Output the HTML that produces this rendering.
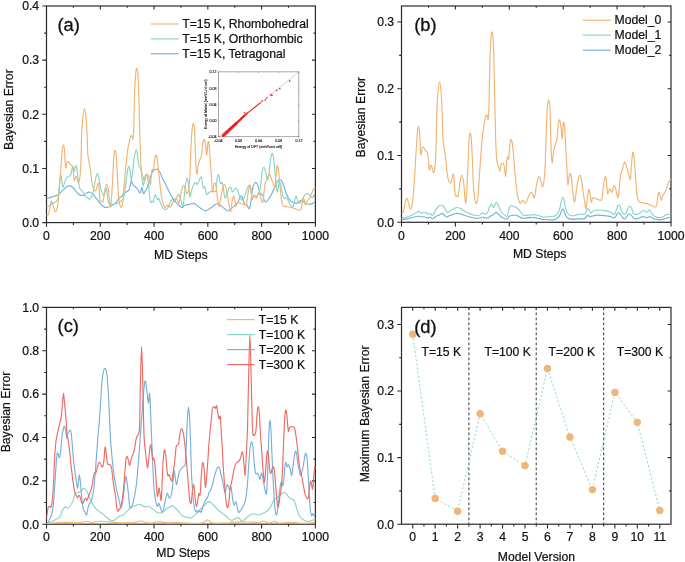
<!DOCTYPE html><html><head><meta charset="utf-8"><style>html,body{margin:0;padding:0;background:#fff}svg{display:block;will-change:transform}.t{font-family:'Liberation Sans',sans-serif;font-size:12.2px;fill:#111;stroke:#111;stroke-width:0.22px}.big{font-family:'Liberation Sans',sans-serif;font-size:18.3px;fill:#111;stroke:#111;stroke-width:0.3px}</style></head><body>
<svg width="685" height="562" viewBox="0 0 685 562">
<rect width="685" height="562" fill="#fff"/>
<clipPath id="ca"><rect x="46.5" y="6" width="268.9" height="216.6"/></clipPath>
<path d="M46.5,222.6 L46.5,226.8 M100.28,222.6 L100.28,226.8 M100.28,6 L100.28,9.4 M154.06,222.6 L154.06,226.8 M154.06,6 L154.06,9.4 M207.84,222.6 L207.84,226.8 M207.84,6 L207.84,9.4 M261.62,222.6 L261.62,226.8 M261.62,6 L261.62,9.4 M315.4,222.6 L315.4,226.8 M73.39,222.6 L73.39,224.9 M73.39,6 L73.39,7.8 M127.17,222.6 L127.17,224.9 M127.17,6 L127.17,7.8 M180.95,222.6 L180.95,224.9 M180.95,6 L180.95,7.8 M234.73,222.6 L234.73,224.9 M234.73,6 L234.73,7.8 M288.51,222.6 L288.51,224.9 M288.51,6 L288.51,7.8 M46.5,222.6 L42.3,222.6 M46.5,168.45 L42.3,168.45 M315.4,168.45 L312,168.45 M46.5,114.3 L42.3,114.3 M315.4,114.3 L312,114.3 M46.5,60.15 L42.3,60.15 M315.4,60.15 L312,60.15 M46.5,6 L42.3,6 M46.5,195.53 L44.2,195.53 M315.4,195.53 L313.6,195.53 M46.5,141.38 L44.2,141.38 M315.4,141.38 L313.6,141.38 M46.5,87.22 L44.2,87.22 M315.4,87.22 L313.6,87.22 M46.5,33.08 L44.2,33.08 M315.4,33.08 L313.6,33.08" stroke="#2a2a2a" stroke-width="1.1" fill="none"/>
<rect x="46.5" y="6" width="268.9" height="216.6" fill="none" stroke="#2a2a2a" stroke-width="1.2"/>
<text x="46.5" y="239.5" text-anchor="middle" class="t">0</text>
<text x="100.28" y="239.5" text-anchor="middle" class="t">200</text>
<text x="154.06" y="239.5" text-anchor="middle" class="t">400</text>
<text x="207.84" y="239.5" text-anchor="middle" class="t">600</text>
<text x="261.62" y="239.5" text-anchor="middle" class="t">800</text>
<text x="315.4" y="239.5" text-anchor="middle" class="t">1000</text>
<text x="39.1" y="226.9" text-anchor="end" class="t">0.0</text>
<text x="39.1" y="172.75" text-anchor="end" class="t">0.1</text>
<text x="39.1" y="118.6" text-anchor="end" class="t">0.2</text>
<text x="39.1" y="64.45" text-anchor="end" class="t">0.3</text>
<text x="39.1" y="10.3" text-anchor="end" class="t">0.4</text>
<g clip-path="url(#ca)">
<path d="M46.5,198.9 C46.9,198.75 48.02,198.33 48.9,198 C49.78,197.67 50.82,197.22 51.8,196.9 C52.78,196.58 53.82,196.4 54.8,196.1 C55.78,195.8 56.73,195.7 57.7,195.1 C58.67,194.5 59.63,193.42 60.6,192.5 C61.57,191.58 62.53,190.52 63.5,189.6 C64.47,188.68 65.43,187.62 66.4,187 C67.37,186.38 68.32,185.9 69.3,185.9 C70.28,185.9 71.32,186.27 72.3,187 C73.28,187.73 74.23,189.18 75.2,190.3 C76.17,191.42 77.13,192.85 78.1,193.7 C79.07,194.55 80.03,195.17 81,195.4 C81.97,195.63 82.93,195.53 83.9,195.1 C84.87,194.67 85.82,193.28 86.8,192.8 C87.78,192.32 88.82,192 89.8,192.2 C90.78,192.4 91.73,193.1 92.7,194 C93.67,194.9 94.63,196.38 95.6,197.6 C96.57,198.82 97.53,200.08 98.5,201.3 C99.47,202.52 100.43,203.93 101.4,204.9 C102.37,205.87 103.32,206.68 104.3,207.1 C105.28,207.52 106.32,207.52 107.3,207.4 C108.28,207.28 109.23,206.82 110.2,206.4 C111.17,205.98 112.13,205.52 113.1,204.9 C114.07,204.28 115.22,203.55 116,202.7 C116.78,201.85 117,200.77 117.8,199.8 C118.6,198.83 119.82,197.87 120.8,196.9 C121.78,195.93 122.73,194.85 123.7,194 C124.67,193.15 125.68,192.53 126.6,191.8 C127.52,191.07 128.6,190.7 129.2,189.6 C129.8,188.5 129.85,186.67 130.2,185.2 C130.55,183.73 130.93,181.03 131.3,180.8 C131.67,180.57 131.97,182.95 132.4,183.8 C132.83,184.65 133.28,185.3 133.9,185.9 C134.52,186.5 135.37,186.67 136.1,187.4 C136.83,188.13 137.58,189.4 138.3,190.3 C139.02,191.2 139.8,193.28 140.4,192.8 C141,192.32 141.4,187.25 141.9,187.4 C142.4,187.55 142.92,192.97 143.4,193.7 C143.88,194.43 144.2,192.73 144.8,191.8 C145.4,190.87 146.27,189.93 147,188.1 C147.73,186.27 148.47,183.1 149.2,180.8 C149.93,178.5 150.67,176 151.4,174.3 C152.13,172.6 152.87,171.45 153.6,170.6 C154.33,169.75 155.08,169.32 155.8,169.2 C156.52,169.08 157.18,169.3 157.9,169.9 C158.62,170.5 159.37,171.47 160.1,172.8 C160.83,174.13 161.57,176.32 162.3,177.9 C163.03,179.48 163.65,180.6 164.5,182.3 C165.35,184 166.43,186.15 167.4,188.1 C168.37,190.05 169.32,192.17 170.3,194 C171.28,195.83 172.32,197.65 173.3,199.1 C174.28,200.55 175.32,201.72 176.2,202.7 C177.08,203.68 177.93,204.38 178.6,205 C179.27,205.62 179.57,206 180.2,206.4 C180.83,206.8 181.67,207.58 182.4,207.4 C183.13,207.22 183.87,205.72 184.6,205.3 C185.33,204.88 185.95,205.08 186.8,204.9 C187.65,204.72 188.73,204.37 189.7,204.2 C190.67,204.03 191.83,204.03 192.6,203.9 C193.37,203.77 193.7,203.23 194.3,203.4 C194.9,203.57 195.4,204.28 196.2,204.9 C197,205.52 198.12,206.37 199.1,207.1 C200.08,207.83 201.12,208.7 202.1,209.3 C203.08,209.9 204.03,210.63 205,210.7 C205.97,210.77 206.93,210.18 207.9,209.7 C208.87,209.22 209.83,208.48 210.8,207.8 C211.77,207.12 212.73,206.28 213.7,205.6 C214.67,204.92 215.75,203.93 216.6,203.7 C217.45,203.47 217.93,203.75 218.8,204.2 C219.67,204.65 220.82,205.63 221.8,206.4 C222.78,207.17 223.73,208.03 224.7,208.8 C225.67,209.57 226.75,210.8 227.6,211 C228.45,211.2 228.95,210.6 229.8,210 C230.65,209.4 231.73,208.25 232.7,207.4 C233.67,206.55 234.75,205.68 235.6,204.9 C236.45,204.12 237.15,203.8 237.8,202.7 C238.45,201.6 239.02,199.4 239.5,198.3 C239.98,197.2 240.25,196.33 240.7,196.1 C241.15,195.87 241.72,195.92 242.2,196.9 C242.68,197.88 243.08,200.72 243.6,202 C244.12,203.28 244.75,204.1 245.3,204.6 C245.85,205.1 246.38,204.45 246.9,205 C247.42,205.55 247.97,207.3 248.4,207.9 C248.83,208.5 249.13,209.22 249.5,208.6 C249.87,207.98 250.25,206.38 250.6,204.2 C250.95,202.02 251.23,198.17 251.6,195.5 C251.97,192.83 252.37,190.15 252.8,188.2 C253.23,186.25 253.72,184.78 254.2,183.8 C254.68,182.82 255.22,182.3 255.7,182.3 C256.18,182.3 256.62,182.82 257.1,183.8 C257.58,184.78 258.15,186.73 258.6,188.2 C259.05,189.67 259.43,191.52 259.8,192.6 C260.17,193.68 260.47,194.47 260.8,194.7 C261.13,194.93 261.43,193.87 261.8,194 C262.17,194.13 262.62,194.52 263,195.5 C263.38,196.48 263.67,198.82 264.1,199.9 C264.53,200.98 265.05,201.88 265.6,202 C266.15,202.12 266.75,201.32 267.4,200.6 C268.05,199.88 268.78,198.8 269.5,197.7 C270.22,196.6 270.97,195.47 271.7,194 C272.43,192.53 273.17,190.6 273.9,188.9 C274.63,187.2 275.37,185.18 276.1,183.8 C276.83,182.42 277.62,181.28 278.3,180.6 C278.98,179.92 279.58,179.53 280.2,179.7 C280.82,179.87 281.42,180.55 282,181.6 C282.58,182.65 283.1,184.3 283.7,186 C284.3,187.7 284.92,189.98 285.6,191.8 C286.28,193.62 287.07,195.52 287.8,196.9 C288.53,198.28 289.27,199.25 290,200.1 C290.73,200.95 291.47,201.5 292.2,202 C292.93,202.5 293.67,202.92 294.4,203.1 C295.13,203.28 295.88,203.2 296.6,203.1 C297.32,203 298.03,202.92 298.7,202.5 C299.37,202.08 300.03,200.92 300.6,200.6 C301.17,200.28 301.55,200.37 302.1,200.6 C302.65,200.83 303.25,201.52 303.9,202 C304.55,202.48 305.28,203.13 306,203.5 C306.72,203.87 307.47,204.08 308.2,204.2 C308.93,204.32 309.67,204.32 310.4,204.2 C311.13,204.08 311.87,203.98 312.6,203.5 C313.33,203.02 314.27,201.78 314.8,201.3 C315.33,200.82 315.63,200.72 315.8,200.6" fill="none" stroke="#78B0D9" stroke-width="1.15" stroke-linejoin="round" stroke-linecap="round"/>
<path d="M46.5,207.1 C46.9,206.98 48.25,206.88 48.9,206.4 C49.55,205.92 49.97,205.05 50.4,204.2 C50.83,203.35 51.13,201.43 51.5,201.3 C51.87,201.17 52.18,203.17 52.6,203.4 C53.02,203.63 53.4,203.05 54,202.7 C54.6,202.35 55.53,202.03 56.2,201.3 C56.87,200.57 57.52,200.5 58,198.3 C58.48,196.1 58.78,191.25 59.1,188.1 C59.42,184.95 59.65,181.53 59.9,179.4 C60.15,177.27 60.33,175.55 60.6,175.3 C60.87,175.05 61.22,176.25 61.5,177.9 C61.78,179.55 62.02,183.62 62.3,185.2 C62.58,186.78 62.88,187.63 63.2,187.4 C63.52,187.17 63.78,185.13 64.2,183.8 C64.62,182.47 65.22,180.5 65.7,179.4 C66.18,178.3 66.62,177.68 67.1,177.2 C67.58,176.72 68.1,176.75 68.6,176.5 C69.1,176.25 69.68,176.2 70.1,175.7 C70.52,175.2 70.78,174.58 71.1,173.5 C71.42,172.42 71.73,170.4 72,169.2 C72.27,168 72.42,166.3 72.7,166.3 C72.98,166.3 73.42,168.35 73.7,169.2 C73.98,170.05 74.15,171.77 74.4,171.4 C74.65,171.03 74.95,167.98 75.2,167 C75.45,166.02 75.62,165.13 75.9,165.5 C76.18,165.87 76.58,167.37 76.9,169.2 C77.22,171.03 77.48,174.07 77.8,176.5 C78.12,178.93 78.43,181.73 78.8,183.8 C79.17,185.87 79.58,187.82 80,188.9 C80.42,189.98 80.88,189.95 81.3,190.3 C81.72,190.65 82.12,190.52 82.5,191 C82.88,191.48 83.25,192.52 83.6,193.2 C83.95,193.88 84.18,194.53 84.6,195.1 C85.02,195.67 85.6,196.18 86.1,196.6 C86.6,197.02 87.12,197.18 87.6,197.6 C88.08,198.02 88.52,198.98 89,199.1 C89.48,199.22 90.02,198.8 90.5,198.3 C90.98,197.8 91.42,197.32 91.9,196.1 C92.38,194.88 92.9,193.3 93.4,191 C93.9,188.7 94.42,184.85 94.9,182.3 C95.38,179.75 95.87,177.12 96.3,175.7 C96.73,174.28 97.13,173.8 97.5,173.8 C97.87,173.8 98.18,174.53 98.5,175.7 C98.82,176.87 99.1,178.97 99.4,180.8 C99.7,182.63 99.97,185 100.3,186.7 C100.63,188.4 101.02,189.92 101.4,191 C101.78,192.08 102.23,192.47 102.6,193.2 C102.97,193.93 103.27,195.27 103.6,195.4 C103.93,195.53 104.28,194.85 104.6,194 C104.92,193.15 105.23,191.28 105.5,190.3 C105.77,189.32 105.95,188.1 106.2,188.1 C106.45,188.1 106.75,188.6 107,190.3 C107.25,192 107.42,196.12 107.7,198.3 C107.98,200.48 108.28,202.3 108.7,203.4 C109.12,204.5 109.72,204.6 110.2,204.9 C110.68,205.2 111.12,205.32 111.6,205.2 C112.08,205.08 112.55,204.37 113.1,204.2 C113.65,204.03 114.12,204.4 114.9,204.2 C115.68,204 116.82,203.48 117.8,203 C118.78,202.52 119.82,202.2 120.8,201.3 C121.78,200.4 122.98,199.55 123.7,197.6 C124.42,195.65 124.62,192.88 125.1,189.6 C125.58,186.32 126.15,181.3 126.6,177.9 C127.05,174.5 127.43,171.13 127.8,169.2 C128.17,167.27 128.47,166.3 128.8,166.3 C129.13,166.3 129.48,167.5 129.8,169.2 C130.12,170.9 130.43,174.8 130.7,176.5 C130.97,178.2 131.12,179.9 131.4,179.4 C131.68,178.9 132.03,176.42 132.4,173.5 C132.77,170.58 133.17,165.17 133.6,161.9 C134.03,158.63 134.58,155.85 135,153.9 C135.42,151.95 135.75,150.57 136.1,150.2 C136.45,149.83 136.78,150.23 137.1,151.7 C137.42,153.17 137.68,156.57 138,159 C138.32,161.43 138.67,164.85 139,166.3 C139.33,167.75 139.68,167.22 140,167.7 C140.32,168.18 140.58,167.73 140.9,169.2 C141.22,170.67 141.57,173.83 141.9,176.5 C142.23,179.17 142.58,183.98 142.9,185.2 C143.22,186.42 143.48,185.13 143.8,183.8 C144.12,182.47 144.47,178.72 144.8,177.2 C145.13,175.68 145.43,175.07 145.8,174.7 C146.17,174.33 146.6,173.73 147,175 C147.4,176.27 147.83,179.38 148.2,182.3 C148.57,185.22 148.87,189.58 149.2,192.5 C149.53,195.42 149.88,198.1 150.2,199.8 C150.52,201.5 150.78,202.45 151.1,202.7 C151.42,202.95 151.77,201.42 152.1,201.3 C152.43,201.18 152.73,202.73 153.1,202 C153.47,201.27 153.9,198.12 154.3,196.9 C154.7,195.68 155.13,194.58 155.5,194.7 C155.87,194.82 156.17,196.75 156.5,197.6 C156.83,198.45 157.13,199.68 157.5,199.8 C157.87,199.92 158.32,198.05 158.7,198.3 C159.08,198.55 159.37,200.2 159.8,201.3 C160.23,202.4 160.77,203.82 161.3,204.9 C161.83,205.98 162.42,207.07 163,207.8 C163.58,208.53 164.18,209.05 164.8,209.3 C165.42,209.55 166.15,209.67 166.7,209.3 C167.25,208.93 167.62,207.95 168.1,207.1 C168.58,206.25 169.1,205.3 169.6,204.2 C170.1,203.1 170.62,201.23 171.1,200.5 C171.58,199.77 172.02,199.55 172.5,199.8 C172.98,200.05 173.52,201.88 174,202 C174.48,202.12 174.92,201.35 175.4,200.5 C175.88,199.65 176.43,197.9 176.9,196.9 C177.37,195.9 177.78,194.73 178.2,194.5 C178.62,194.27 179,194.67 179.4,195.5 C179.8,196.33 180.23,198.17 180.6,199.5 C180.97,200.83 181.3,202.35 181.6,203.5 C181.9,204.65 182.08,206.28 182.4,206.4 C182.72,206.52 183.13,206.52 183.5,204.2 C183.87,201.88 184.25,195.9 184.6,192.5 C184.95,189.1 185.23,186.12 185.6,183.8 C185.97,181.48 186.42,179.22 186.8,178.6 C187.18,177.98 187.55,178.52 187.9,180.1 C188.25,181.68 188.55,185.3 188.9,188.1 C189.25,190.9 189.63,196.17 190,196.9 C190.37,197.63 190.72,193.97 191.1,192.5 C191.48,191.03 191.85,189.43 192.3,188.1 C192.75,186.77 193.32,185.47 193.8,184.5 C194.28,183.53 194.8,182.55 195.2,182.3 C195.6,182.05 195.85,182.63 196.2,183 C196.55,183.37 196.93,184.62 197.3,184.5 C197.67,184.38 198.02,183.15 198.4,182.3 C198.78,181.45 199.23,180.25 199.6,179.4 C199.97,178.55 200.27,177.45 200.6,177.2 C200.93,176.95 201.28,176.8 201.6,177.9 C201.92,179 202.18,182.1 202.5,183.8 C202.82,185.5 203.17,187.62 203.5,188.1 C203.83,188.58 204.13,186.33 204.5,186.7 C204.87,187.07 205.3,188.97 205.7,190.3 C206.1,191.63 206.47,194.22 206.9,194.7 C207.33,195.18 207.77,193.68 208.3,193.2 C208.83,192.72 209.43,192.12 210.1,191.8 C210.77,191.48 211.57,191.38 212.3,191.3 C213.03,191.22 213.85,191.47 214.5,191.3 C215.15,191.13 215.77,192.42 216.2,190.3 C216.63,188.18 216.78,181.2 217.1,178.6 C217.42,176 217.77,175.05 218.1,174.7 C218.43,174.35 218.78,175.23 219.1,176.5 C219.42,177.77 219.68,181.08 220,182.3 C220.32,183.52 220.67,183.8 221,183.8 C221.33,183.8 221.63,181.82 222,182.3 C222.37,182.78 222.8,184.4 223.2,186.7 C223.6,189 224.03,194.28 224.4,196.1 C224.77,197.92 225.07,197.72 225.4,197.6 C225.73,197.48 226.03,196.25 226.4,195.4 C226.77,194.55 227.17,193.72 227.6,192.5 C228.03,191.28 228.57,189.07 229,188.1 C229.43,187.13 229.83,186.7 230.2,186.7 C230.57,186.7 230.87,187.25 231.2,188.1 C231.53,188.95 231.83,191.32 232.2,191.8 C232.57,192.28 233,191.48 233.4,191 C233.8,190.52 234.17,189.38 234.6,188.9 C235.03,188.42 235.52,187.87 236,188.1 C236.48,188.33 237,189.2 237.5,190.3 C238,191.4 238.52,193.37 239,194.7 C239.48,196.03 239.92,197.45 240.4,198.3 C240.88,199.15 241.42,199.67 241.9,199.8 C242.38,199.93 242.77,199.9 243.3,199.1 C243.83,198.3 244.5,196.58 245.1,195 C245.7,193.42 246.35,191.1 246.9,189.6 C247.45,188.1 247.92,186.72 248.4,186 C248.88,185.28 249.37,184.7 249.8,185.3 C250.23,185.9 250.63,187.42 251,189.6 C251.37,191.78 251.65,197.18 252,198.4 C252.35,199.62 252.73,197.38 253.1,196.9 C253.47,196.42 253.77,195.62 254.2,195.5 C254.63,195.38 255.22,196.2 255.7,196.2 C256.18,196.2 256.62,195.98 257.1,195.5 C257.58,195.02 258.1,194.4 258.6,193.3 C259.1,192.2 259.67,190.97 260.1,188.9 C260.53,186.83 260.85,183.82 261.2,180.9 C261.55,177.98 261.85,173.6 262.2,171.4 C262.55,169.2 262.93,168.32 263.3,167.7 C263.67,167.08 264.02,167.08 264.4,167.7 C264.78,168.32 265.23,169.82 265.6,171.4 C265.97,172.98 266.27,175.87 266.6,177.2 C266.93,178.53 267.28,179.27 267.6,179.4 C267.92,179.53 268.18,179.7 268.5,178 C268.82,176.3 269.15,172.37 269.5,169.2 C269.85,166.03 270.23,161.55 270.6,159 C270.97,156.45 271.32,154.63 271.7,153.9 C272.08,153.17 272.53,153.38 272.9,154.6 C273.27,155.82 273.57,158.28 273.9,161.2 C274.23,164.12 274.53,168.33 274.9,172.1 C275.27,175.87 275.7,180.52 276.1,183.8 C276.5,187.08 276.93,191.07 277.3,191.8 C277.67,192.53 278.02,189.78 278.3,188.2 C278.58,186.62 278.68,183.03 279,182.3 C279.32,181.57 279.75,182.58 280.2,183.8 C280.65,185.02 281.22,187.53 281.7,189.6 C282.18,191.67 282.62,194.73 283.1,196.2 C283.58,197.67 284.12,198.15 284.6,198.4 C285.08,198.65 285.52,197.58 286,197.7 C286.48,197.82 286.95,198.25 287.5,199.1 C288.05,199.95 288.72,201.7 289.3,202.8 C289.88,203.9 290.4,205.1 291,205.7 C291.6,206.3 292.33,207.13 292.9,206.4 C293.47,205.67 293.92,203 294.4,201.3 C294.88,199.6 295.32,196.57 295.8,196.2 C296.28,195.83 296.82,198 297.3,199.1 C297.78,200.2 298.22,202.18 298.7,202.8 C299.18,203.42 299.7,203.17 300.2,202.8 C300.7,202.43 301.22,201.45 301.7,200.6 C302.18,199.75 302.5,198.68 303.1,197.7 C303.7,196.72 304.57,195.43 305.3,194.7 C306.03,193.97 306.88,193.3 307.5,193.3 C308.12,193.3 308.52,194.22 309,194.7 C309.48,195.18 309.92,195.7 310.4,196.2 C310.88,196.7 311.42,197.58 311.9,197.7 C312.38,197.82 312.7,197.27 313.3,196.9 C313.9,196.53 315.13,195.73 315.5,195.5" fill="none" stroke="#88D5C6" stroke-width="1.15" stroke-linejoin="round" stroke-linecap="round"/>
<path d="M46.1,215.3 C46.47,215.15 47.55,216.06 48.3,214.41 C49.04,212.76 49.96,207.27 50.59,205.4 C51.22,203.54 51.54,202.77 52.09,203.21 C52.64,203.66 53.37,206.66 53.88,208.08 C54.4,209.5 54.63,211.73 55.18,211.73 C55.73,211.73 56.58,210.78 57.18,208.08 C57.77,205.38 58.21,201.51 58.77,195.51 C59.34,189.51 59.99,179.58 60.57,172.07 C61.15,164.55 61.8,154.97 62.26,150.41 C62.73,145.85 62.98,144.73 63.36,144.73 C63.74,144.73 64.18,146.61 64.56,150.41 C64.94,154.21 65.22,165.56 65.66,167.52 C66.09,169.48 66.61,163.06 67.15,162.17 C67.7,161.28 68.38,161.73 68.95,162.17 C69.52,162.62 70.03,164.25 70.55,164.85 C71.06,165.44 71.58,164.54 72.04,165.74 C72.51,166.94 72.97,169.66 73.34,172.07 C73.71,174.47 73.86,179.42 74.24,180.18 C74.62,180.94 75.22,177.06 75.63,176.61 C76.05,176.16 76.3,176.61 76.73,177.5 C77.16,178.39 77.75,181.67 78.23,181.96 C78.71,182.26 79.18,182.44 79.63,179.29 C80.08,176.14 80.59,170.35 80.92,163.06 C81.26,155.78 81.32,142.85 81.62,135.57 C81.92,128.28 82.24,123.85 82.72,119.34 C83.2,114.84 83.93,108.56 84.52,108.56 C85.1,108.56 85.78,114.84 86.21,119.34 C86.64,123.85 86.84,129.78 87.11,135.57 C87.38,141.35 87.51,149.77 87.81,154.06 C88.11,158.35 88.46,158.58 88.91,161.28 C89.35,163.98 89.99,166.69 90.5,170.28 C91.02,173.88 91.45,179.71 92,182.85 C92.55,186 93.13,187.91 93.79,189.18 C94.46,190.45 95.32,191.39 95.99,190.48 C96.65,189.57 97.3,184.56 97.79,183.75 C98.27,182.94 98.52,182.91 98.88,185.61 C99.25,188.32 99.53,197.41 99.98,199.97 C100.43,202.52 101.06,200.73 101.58,200.94 C102.09,201.16 102.52,203.08 103.07,201.27 C103.62,199.46 104.27,192.9 104.87,190.07 C105.47,187.25 106.07,184.31 106.67,184.31 C107.26,184.31 107.95,187.01 108.46,190.07 C108.98,193.14 109.34,200.17 109.76,202.73 C110.17,205.28 110.49,209.01 110.96,205.4 C111.42,201.79 112.07,189.33 112.55,181.07 C113.03,172.81 113.45,160.95 113.85,155.84 C114.25,150.73 114.58,150.71 114.95,150.41 C115.31,150.11 115.68,150.75 116.04,154.06 C116.41,157.37 116.78,163.98 117.14,170.28 C117.51,176.58 117.79,186.15 118.24,191.86 C118.69,197.56 119.3,201.96 119.84,204.51 C120.37,207.07 120.95,207.49 121.43,207.19 C121.92,206.89 122.26,206.47 122.73,202.73 C123.2,198.98 123.71,190.74 124.23,184.72 C124.74,178.7 125.26,172.35 125.82,166.63 C126.39,160.91 127.02,154.65 127.62,150.41 C128.22,146.17 128.87,143.6 129.41,141.16 C129.96,138.73 130.48,136.63 130.91,135.81 C131.34,134.99 131.64,135.72 132.01,136.22 C132.38,136.72 132.81,140.42 133.11,138.81 C133.41,137.2 133.54,134.62 133.81,126.56 C134.07,118.51 134.34,99.78 134.7,90.47 C135.07,81.15 135.63,74.31 136,70.68 C136.37,67.04 136.6,68.35 136.9,68.65 C137.2,68.95 137.5,68.82 137.8,72.46 C138.1,76.1 138.39,81.45 138.69,90.47 C138.99,99.48 139.29,115.67 139.59,126.56 C139.89,137.46 140.16,148.26 140.49,155.84 C140.82,163.43 141.16,168.61 141.59,172.07 C142.02,175.53 142.57,175.11 143.08,176.61 C143.6,178.11 144.2,181.23 144.68,181.07 C145.16,180.91 145.5,176.74 145.98,175.64 C146.46,174.53 147.06,174.11 147.57,174.42 C148.09,174.73 148.59,175.73 149.07,177.5 C149.55,179.27 150.05,185.95 150.47,185.04 C150.88,184.14 151.23,174.68 151.57,172.07 C151.9,169.46 152.16,169.54 152.46,169.39 C152.76,169.24 153.03,172.53 153.36,171.17 C153.69,169.82 154.09,163.89 154.46,161.28 C154.82,158.67 155.16,156.13 155.56,155.52 C155.96,154.91 156.42,155.78 156.85,157.63 C157.29,159.48 157.67,162.43 158.15,166.63 C158.63,170.84 159.22,178.04 159.75,182.85 C160.28,187.67 160.79,192.05 161.34,195.51 C161.89,198.97 162.46,201.67 163.04,203.62 C163.62,205.57 164.27,206.8 164.84,207.19 C165.4,207.58 165.92,206.36 166.43,205.97 C166.95,205.58 167.38,204.63 167.93,204.84 C168.48,205.04 169.13,207.09 169.73,207.19 C170.32,207.28 170.86,206.45 171.52,205.4 C172.19,204.36 172.98,202.15 173.72,200.94 C174.45,199.74 175.25,198.25 175.91,198.19 C176.58,198.12 177.18,199.78 177.71,200.54 C178.24,201.29 178.57,203.86 179.1,202.73 C179.64,201.59 180.33,196.28 180.9,193.72 C181.47,191.17 181.98,188.75 182.5,187.4 C183.01,186.05 183.51,185.46 183.99,185.61 C184.48,185.76 184.91,186.94 185.39,188.29 C185.87,189.64 186.37,193.43 186.89,193.72 C187.4,194.02 188,192.78 188.48,190.07 C188.97,187.37 189.38,184.11 189.78,177.5 C190.18,170.89 190.51,158.26 190.88,150.41 C191.24,142.56 191.56,134.89 191.98,130.38 C192.39,125.86 192.92,123.36 193.37,123.32 C193.82,123.28 194.39,126.51 194.67,130.13 C194.95,133.75 194.85,138.97 195.07,145.06 C195.28,151.14 195.67,161.68 195.97,166.63 C196.27,171.58 196.53,174.74 196.86,174.74 C197.2,174.74 197.51,169.03 197.96,166.63 C198.41,164.24 199.08,161.89 199.56,160.39 C200.04,158.89 200.49,158.68 200.86,157.63 C201.22,156.57 201.42,156.47 201.75,154.06 C202.09,151.65 202.44,145.61 202.85,143.19 C203.27,140.77 203.77,139.08 204.25,139.54 C204.73,140 205.31,143.38 205.74,145.95 C206.18,148.52 206.48,155.55 206.84,154.95 C207.21,154.36 207.57,144.18 207.94,142.38 C208.31,140.58 208.65,141.33 209.04,144.16 C209.42,147 209.85,154.17 210.23,159.41 C210.62,164.66 210.97,170.23 211.33,175.64 C211.7,181.04 212.06,190.05 212.43,191.86 C212.8,193.67 213.16,188.01 213.53,186.51 C213.89,185 214.23,183 214.62,182.85 C215.02,182.71 215.47,183.21 215.92,185.61 C216.37,188.02 216.8,193.85 217.32,197.29 C217.83,200.74 218.47,206 219.02,206.3 C219.56,206.59 220.08,201.78 220.61,199.08 C221.14,196.37 221.66,192.47 222.21,190.07 C222.76,187.68 223.32,185.32 223.9,184.72 C224.49,184.13 225.13,184.71 225.7,186.51 C226.27,188.3 226.75,192.51 227.3,195.51 C227.85,198.51 228.44,201.81 228.99,204.51 C229.54,207.22 230.11,212.03 230.59,211.73 C231.07,211.43 231.4,205.34 231.89,202.73 C232.37,200.12 233.03,196.68 233.48,196.08 C233.93,195.47 234.18,197.37 234.58,199.08 C234.98,200.78 235.43,205.69 235.88,206.3 C236.33,206.9 236.76,203.32 237.27,202.73 C237.79,202.13 238.39,202.58 238.97,202.73 C239.55,202.88 240.33,203.46 240.77,203.62 C241.2,203.78 240.98,203.54 241.56,203.7 C242.15,203.86 243.44,204.59 244.26,204.59 C245.07,204.59 245.79,205.81 246.45,203.7 C247.12,201.59 247.7,194.95 248.25,191.94 C248.8,188.92 249.31,186.21 249.75,185.61 C250.18,185.02 250.46,186.11 250.84,188.37 C251.23,190.63 251.66,197.66 252.04,199.16 C252.42,200.66 252.74,198.04 253.14,197.37 C253.54,196.71 254.04,195.18 254.44,195.18 C254.84,195.18 255.17,196.86 255.53,197.37 C255.9,197.89 256.27,198.71 256.63,198.27 C257,197.82 257.36,195.6 257.73,194.7 C258.09,193.79 258.44,192.83 258.83,192.83 C259.21,192.83 259.64,193.64 260.02,194.7 C260.41,195.75 260.69,197.87 261.12,199.16 C261.55,200.44 262.19,203 262.62,202.4 C263.05,201.81 263.33,198.54 263.72,195.59 C264.1,192.64 264.53,187.13 264.91,184.72 C265.3,182.31 265.64,182.04 266.01,181.15 C266.38,180.26 266.74,180.27 267.11,179.37 C267.47,178.46 267.81,176.62 268.21,175.72 C268.6,174.81 269.05,173.64 269.5,173.93 C269.95,174.23 270.45,176.3 270.9,177.5 C271.35,178.7 271.71,179.8 272.2,181.15 C272.68,182.5 273.34,184.56 273.79,185.61 C274.24,186.67 274.52,189.13 274.89,187.48 C275.26,185.83 275.62,179.25 275.99,175.72 C276.35,172.19 276.72,167.66 277.09,166.31 C277.45,164.96 277.82,165.74 278.18,167.61 C278.55,169.47 278.88,173.45 279.28,177.5 C279.68,181.56 280.13,187.72 280.58,191.94 C281.03,196.16 281.44,200.46 281.97,202.81 C282.51,205.16 282.92,205.39 283.77,206.05 C284.62,206.72 285.97,206.58 287.06,206.78 C288.16,206.99 289.24,207.04 290.36,207.27 C291.47,207.5 292.63,207.77 293.75,208.16 C294.86,208.55 295.94,209.31 297.04,209.62 C298.14,209.93 299.59,210.57 300.33,210.03 C301.08,209.49 301.15,208.04 301.53,206.38 C301.91,204.71 302.26,201.4 302.63,200.05 C302.99,198.7 303.36,197.81 303.73,198.27 C304.09,198.73 304.46,201.75 304.82,202.81 C305.19,203.86 305.52,204.9 305.92,204.59 C306.32,204.28 306.74,201.85 307.22,200.94 C307.7,200.04 308.28,199.9 308.81,199.16 C309.35,198.42 309.86,197.68 310.41,196.48 C310.96,195.28 311.53,193.24 312.11,191.94 C312.69,190.64 313.39,189.29 313.9,188.7 C314.42,188.1 314.98,188.42 315.2,188.37" fill="none" stroke="#F1B472" stroke-width="1.15" stroke-linejoin="round" stroke-linecap="round"/>
</g>
<line x1="150.7" y1="24" x2="178.7" y2="24" stroke="#F1B472" stroke-width="1.15"/>
<text x="182.3" y="28" class="t">T=15 K, Rhombohedral</text>
<line x1="150.7" y1="38.9" x2="178.7" y2="38.9" stroke="#88D5C6" stroke-width="1.15"/>
<text x="182.3" y="42.9" class="t">T=15 K, Orthorhombic</text>
<line x1="150.7" y1="53.8" x2="178.7" y2="53.8" stroke="#78B0D9" stroke-width="1.15"/>
<text x="182.3" y="57.8" class="t">T=15 K, Tetragonal</text>
<text x="57.4" y="31.1" class="big">(a)</text>
<text x="180.8" y="258.7" text-anchor="middle" class="t">MD Steps</text>
<text transform="translate(13.2,109.6) rotate(-90)" text-anchor="middle" class="t">Bayesian Error</text>
<rect x="218.4" y="71.9" width="80.5" height="64.9" fill="#fff" stroke="#555" stroke-width="0.5"/>
<line x1="218.4" y1="136.8" x2="298.9" y2="71.9" stroke="#7f7fff" stroke-width="0.4"/>
<path d="M223.2,135.6 L236,123.6" stroke="#ee2020" stroke-width="2.9" stroke-linecap="round"/>
<path d="M236,123.6 L244,116" stroke="#ee2020" stroke-width="2.3" stroke-linecap="round"/>
<path d="M244,116 L247,113.4" stroke="#ee2020" stroke-width="1.7" stroke-linecap="round"/>
<path d="M247,113.4 L260.6,102.6" stroke="#ee2020" stroke-width="1.15" stroke-linecap="round"/>
<circle cx="244.6" cy="112.8" r="0.8" fill="#f01010"/>
<circle cx="262" cy="101" r="0.8" fill="#f01010"/>
<circle cx="265.2" cy="100" r="0.8" fill="#f01010"/>
<circle cx="266.7" cy="98" r="0.8" fill="#f01010"/>
<circle cx="270.9" cy="94.9" r="0.8" fill="#f01010"/>
<circle cx="272" cy="95.4" r="0.8" fill="#f01010"/>
<circle cx="276.7" cy="90.3" r="0.8" fill="#f01010"/>
<circle cx="279.8" cy="88.8" r="0.8" fill="#f01010"/>
<circle cx="289.7" cy="81.1" r="0.8" fill="#f01010"/>
<text x="216.6" y="73.3" text-anchor="end" style="font-family:'Liberation Sans',sans-serif;font-size:3.6px;fill:#111;stroke:#111;stroke-width:0.12px">0.12</text>
<line x1="218.4" y1="72.0" x2="219.4" y2="72.0" stroke="#555" stroke-width="0.4"/>
<line x1="298.9" y1="72.0" x2="297.9" y2="72.0" stroke="#555" stroke-width="0.4"/>
<text x="216.6" y="89.5" text-anchor="end" style="font-family:'Liberation Sans',sans-serif;font-size:3.6px;fill:#111;stroke:#111;stroke-width:0.12px">0.08</text>
<line x1="218.4" y1="88.2" x2="219.4" y2="88.2" stroke="#555" stroke-width="0.4"/>
<line x1="298.9" y1="88.2" x2="297.9" y2="88.2" stroke="#555" stroke-width="0.4"/>
<text x="216.6" y="105.7" text-anchor="end" style="font-family:'Liberation Sans',sans-serif;font-size:3.6px;fill:#111;stroke:#111;stroke-width:0.12px">0.04</text>
<line x1="218.4" y1="104.4" x2="219.4" y2="104.4" stroke="#555" stroke-width="0.4"/>
<line x1="298.9" y1="104.4" x2="297.9" y2="104.4" stroke="#555" stroke-width="0.4"/>
<text x="216.6" y="121.9" text-anchor="end" style="font-family:'Liberation Sans',sans-serif;font-size:3.6px;fill:#111;stroke:#111;stroke-width:0.12px">0.00</text>
<line x1="218.4" y1="120.6" x2="219.4" y2="120.6" stroke="#555" stroke-width="0.4"/>
<line x1="298.9" y1="120.6" x2="297.9" y2="120.6" stroke="#555" stroke-width="0.4"/>
<text x="216.6" y="138.1" text-anchor="end" style="font-family:'Liberation Sans',sans-serif;font-size:3.6px;fill:#111;stroke:#111;stroke-width:0.12px">-0.04</text>
<line x1="218.4" y1="136.8" x2="219.4" y2="136.8" stroke="#555" stroke-width="0.4"/>
<line x1="298.9" y1="136.8" x2="297.9" y2="136.8" stroke="#555" stroke-width="0.4"/>
<text x="218.4" y="142.2" text-anchor="middle" style="font-family:'Liberation Sans',sans-serif;font-size:3.6px;fill:#111;stroke:#111;stroke-width:0.12px">-0.04</text>
<line x1="218.4" y1="136.8" x2="218.4" y2="135.8" stroke="#555" stroke-width="0.4"/>
<line x1="218.4" y1="71.9" x2="218.4" y2="72.9" stroke="#555" stroke-width="0.4"/>
<text x="238.5" y="142.2" text-anchor="middle" style="font-family:'Liberation Sans',sans-serif;font-size:3.6px;fill:#111;stroke:#111;stroke-width:0.12px">0.00</text>
<line x1="238.5" y1="136.8" x2="238.5" y2="135.8" stroke="#555" stroke-width="0.4"/>
<line x1="238.5" y1="71.9" x2="238.5" y2="72.9" stroke="#555" stroke-width="0.4"/>
<text x="258.6" y="142.2" text-anchor="middle" style="font-family:'Liberation Sans',sans-serif;font-size:3.6px;fill:#111;stroke:#111;stroke-width:0.12px">0.04</text>
<line x1="258.6" y1="136.8" x2="258.6" y2="135.8" stroke="#555" stroke-width="0.4"/>
<line x1="258.6" y1="71.9" x2="258.6" y2="72.9" stroke="#555" stroke-width="0.4"/>
<text x="278.8" y="142.2" text-anchor="middle" style="font-family:'Liberation Sans',sans-serif;font-size:3.6px;fill:#111;stroke:#111;stroke-width:0.12px">0.08</text>
<line x1="278.8" y1="136.8" x2="278.8" y2="135.8" stroke="#555" stroke-width="0.4"/>
<line x1="278.8" y1="71.9" x2="278.8" y2="72.9" stroke="#555" stroke-width="0.4"/>
<text x="298.9" y="142.2" text-anchor="middle" style="font-family:'Liberation Sans',sans-serif;font-size:3.6px;fill:#111;stroke:#111;stroke-width:0.12px">0.12</text>
<line x1="298.9" y1="136.8" x2="298.9" y2="135.8" stroke="#555" stroke-width="0.4"/>
<line x1="298.9" y1="71.9" x2="298.9" y2="72.9" stroke="#555" stroke-width="0.4"/>
<text x="258.6" y="148.4" text-anchor="middle" style="font-family:'Liberation Sans',sans-serif;font-size:3.6px;fill:#111;stroke:#111;stroke-width:0.12px">Energy of DFT (meV/unit cell)</text>
<text transform="translate(207.2,104.3) rotate(-90)" text-anchor="middle" style="font-family:'Liberation Sans',sans-serif;font-size:3.6px;fill:#111;stroke:#111;stroke-width:0.12px">Energy of Model (meV/unit cell)</text>
<clipPath id="cb"><rect x="401.5" y="6" width="269.5" height="216.3"/></clipPath>
<path d="M401.5,222.3 L401.5,226.5 M455.4,222.3 L455.4,226.5 M455.4,6 L455.4,9.4 M509.3,222.3 L509.3,226.5 M509.3,6 L509.3,9.4 M563.2,222.3 L563.2,226.5 M563.2,6 L563.2,9.4 M617.1,222.3 L617.1,226.5 M617.1,6 L617.1,9.4 M671,222.3 L671,226.5 M428.45,222.3 L428.45,224.6 M428.45,6 L428.45,7.8 M482.35,222.3 L482.35,224.6 M482.35,6 L482.35,7.8 M536.25,222.3 L536.25,224.6 M536.25,6 L536.25,7.8 M590.15,222.3 L590.15,224.6 M590.15,6 L590.15,7.8 M644.05,222.3 L644.05,224.6 M644.05,6 L644.05,7.8 M401.5,222.3 L397.3,222.3 M401.5,155.54 L397.3,155.54 M671,155.54 L667.6,155.54 M401.5,88.78 L397.3,88.78 M671,88.78 L667.6,88.78 M401.5,22.02 L397.3,22.02 M671,22.02 L667.6,22.02 M401.5,188.92 L399.2,188.92 M671,188.92 L669.2,188.92 M401.5,122.16 L399.2,122.16 M671,122.16 L669.2,122.16 M401.5,55.4 L399.2,55.4 M671,55.4 L669.2,55.4" stroke="#2a2a2a" stroke-width="1.1" fill="none"/>
<rect x="401.5" y="6" width="269.5" height="216.3" fill="none" stroke="#2a2a2a" stroke-width="1.2"/>
<text x="401.5" y="239.8" text-anchor="middle" class="t">0</text>
<text x="455.4" y="239.8" text-anchor="middle" class="t">200</text>
<text x="509.3" y="239.8" text-anchor="middle" class="t">400</text>
<text x="563.2" y="239.8" text-anchor="middle" class="t">600</text>
<text x="617.1" y="239.8" text-anchor="middle" class="t">800</text>
<text x="671" y="239.8" text-anchor="middle" class="t">1000</text>
<text x="394.1" y="226.6" text-anchor="end" class="t">0.0</text>
<text x="394.1" y="159.84" text-anchor="end" class="t">0.1</text>
<text x="394.1" y="93.08" text-anchor="end" class="t">0.2</text>
<text x="394.1" y="26.32" text-anchor="end" class="t">0.3</text>
<g clip-path="url(#cb)">
<path d="M401.5,219.9 C402.35,219.73 404.88,219.28 406.6,218.9 C408.32,218.52 409.95,218.03 411.8,217.6 C413.65,217.17 416.05,216.45 417.7,216.3 C419.35,216.15 420.38,216.55 421.7,216.7 C423.02,216.85 424.5,216.98 425.6,217.2 C426.7,217.42 427.53,218 428.3,218 C429.07,218 429.48,217.05 430.2,217.2 C430.92,217.35 431.62,219.05 432.6,218.9 C433.58,218.75 434.97,216.95 436.1,216.3 C437.23,215.65 438.42,215.5 439.4,215 C440.38,214.5 441.23,213.3 442,213.3 C442.77,213.3 443.23,214.38 444,215 C444.77,215.62 445.72,216.88 446.6,217 C447.48,217.12 448.08,216.18 449.3,215.7 C450.52,215.22 452.58,214.5 453.9,214.1 C455.22,213.7 456,213.3 457.2,213.3 C458.4,213.3 459.68,213.7 461.1,214.1 C462.52,214.5 464.05,215.18 465.7,215.7 C467.35,216.22 469.25,216.77 471,217.2 C472.75,217.63 474.67,218.17 476.2,218.3 C477.73,218.43 479.1,218.18 480.2,218 C481.3,217.82 481.93,217.2 482.8,217.2 C483.67,217.2 484.53,217.87 485.4,218 C486.27,218.13 487.23,218.28 488,218 C488.77,217.72 489.35,216.73 490,216.3 C490.65,215.87 491.25,215.73 491.9,215.4 C492.55,215.07 493.2,214.8 493.9,214.3 C494.6,213.8 495.43,212.5 496.1,212.4 C496.77,212.3 497.17,213.05 497.9,213.7 C498.63,214.35 499.52,215.53 500.5,216.3 C501.48,217.07 502.7,217.87 503.8,218.3 C504.9,218.73 506.12,219.3 507.1,218.9 C508.08,218.5 508.83,216.48 509.7,215.9 C510.57,215.32 511.43,215.55 512.3,215.4 C513.17,215.25 514.02,214.92 514.9,215 C515.78,215.08 516.6,215.47 517.6,215.9 C518.6,216.33 519.7,217.2 520.9,217.6 C522.1,218 523.28,218.3 524.8,218.3 C526.32,218.3 528.47,217.72 530,217.6 C531.53,217.48 532.68,217.48 534,217.6 C535.32,217.72 536.58,218.03 537.9,218.3 C539.22,218.57 540.37,218.98 541.9,219.2 C543.43,219.42 545.35,219.48 547.1,219.6 C548.85,219.72 550.87,220.02 552.4,219.9 C553.93,219.78 555.1,219.6 556.3,218.9 C557.5,218.2 558.77,216.9 559.6,215.7 C560.43,214.5 560.8,212.8 561.3,211.7 C561.8,210.6 562.12,209.15 562.6,209.1 C563.08,209.05 563.6,210.2 564.2,211.4 C564.8,212.6 565.32,215.05 566.2,216.3 C567.08,217.55 568.3,218.4 569.5,218.9 C570.7,219.4 572.32,219.3 573.4,219.3 C574.48,219.3 574.87,218.97 576,218.9 C577.13,218.83 578.8,218.95 580.2,218.9 C581.6,218.85 583.35,219 584.4,218.6 C585.45,218.2 585.92,217.08 586.5,216.5 C587.08,215.92 587.32,215.03 587.9,215.1 C588.48,215.17 589.3,216.73 590,216.9 C590.7,217.07 590.93,216.4 592.1,216.1 C593.27,215.8 595.25,215.2 597,215.1 C598.75,215 600.73,215.33 602.6,215.5 C604.47,215.67 606.57,215.82 608.2,216.1 C609.83,216.38 611.35,216.9 612.4,217.2 C613.45,217.5 613.8,218.25 614.5,217.9 C615.2,217.55 615.97,215.97 616.6,215.1 C617.23,214.23 617.63,212.77 618.3,212.7 C618.97,212.63 619.82,213.83 620.6,214.7 C621.38,215.57 622.25,217.2 623,217.9 C623.75,218.6 624.4,219.25 625.1,218.9 C625.8,218.55 626.47,216.67 627.2,215.8 C627.93,214.93 628.73,213.7 629.5,213.7 C630.27,213.7 631.02,214.98 631.8,215.8 C632.58,216.62 633.22,218.13 634.2,218.6 C635.18,219.07 636.42,218.88 637.7,218.6 C638.98,218.32 640.73,217.18 641.9,216.9 C643.07,216.62 643.88,216.73 644.7,216.9 C645.52,217.07 645.98,217.97 646.8,217.9 C647.62,217.83 648.67,216.5 649.6,216.5 C650.53,216.5 651.35,217.43 652.4,217.9 C653.45,218.37 654.62,218.98 655.9,219.3 C657.18,219.62 658.7,219.87 660.1,219.8 C661.5,219.73 662.9,219.28 664.3,218.9 C665.7,218.52 667.42,217.78 668.5,217.5 C669.58,217.22 670.42,217.25 670.8,217.2" fill="none" stroke="#78B0D9" stroke-width="1.15" stroke-linejoin="round" stroke-linecap="round"/>
<path d="M401.5,218.3 C402.13,218.18 403.8,218.03 405.3,217.6 C406.8,217.17 408.97,216.35 410.5,215.7 C412.03,215.05 413.18,214.42 414.5,213.7 C415.82,212.98 417.53,211.73 418.4,211.4 C419.27,211.07 419.27,211.38 419.7,211.7 C420.13,212.02 420.45,213.18 421,213.3 C421.55,213.42 422.33,212.48 423,212.4 C423.67,212.32 424.35,212.7 425,212.8 C425.65,212.9 426.35,212.75 426.9,213 C427.45,213.25 427.75,214.25 428.3,214.3 C428.85,214.35 429.55,213.12 430.2,213.3 C430.85,213.48 431.53,215.45 432.2,215.4 C432.87,215.35 433.43,214.17 434.2,213 C434.97,211.83 435.93,209.6 436.8,208.4 C437.67,207.2 438.53,206.3 439.4,205.8 C440.27,205.3 441.23,205.18 442,205.4 C442.77,205.62 443.33,206.27 444,207.1 C444.67,207.93 445.4,209.52 446,210.4 C446.6,211.28 446.95,212.28 447.6,212.4 C448.25,212.52 448.85,211.77 449.9,211.1 C450.95,210.43 452.68,209 453.9,208.4 C455.12,207.8 456.12,207.5 457.2,207.5 C458.28,207.5 459.2,207.8 460.4,208.4 C461.6,209 463.08,210.33 464.4,211.1 C465.72,211.87 466.77,212.35 468.3,213 C469.83,213.65 471.85,214.55 473.6,215 C475.35,215.45 477.6,215.82 478.8,215.7 C480,215.58 480.25,214.78 480.8,214.3 C481.35,213.82 481.55,212.9 482.1,212.8 C482.65,212.7 483.37,213.57 484.1,213.7 C484.83,213.83 485.85,213.93 486.5,213.6 C487.15,213.27 487.53,212.67 488,211.7 C488.47,210.73 488.82,209 489.3,207.8 C489.78,206.6 490.42,204.95 490.9,204.5 C491.38,204.05 491.77,204.55 492.2,205.1 C492.63,205.65 493.07,207.9 493.5,207.8 C493.93,207.7 494.3,205.43 494.8,204.5 C495.3,203.57 495.98,202.2 496.5,202.2 C497.02,202.2 497.35,203.35 497.9,204.5 C498.45,205.65 499.03,207.68 499.8,209.1 C500.57,210.52 501.62,211.95 502.5,213 C503.38,214.05 504.33,214.85 505.1,215.4 C505.87,215.95 506.55,216.92 507.1,216.3 C507.65,215.68 507.97,213.23 508.4,211.7 C508.83,210.17 509.2,208.13 509.7,207.1 C510.2,206.07 510.75,205.57 511.4,205.5 C512.05,205.43 512.9,206.43 513.6,206.7 C514.3,206.97 514.83,206.7 515.6,207.1 C516.37,207.5 517.32,208.22 518.2,209.1 C519.08,209.98 520.13,211.42 520.9,212.4 C521.67,213.38 521.93,214.5 522.8,215 C523.67,215.5 524.9,215.4 526.1,215.4 C527.3,215.4 528.68,215.13 530,215 C531.32,214.87 532.68,214.53 534,214.6 C535.32,214.67 536.58,215.05 537.9,215.4 C539.22,215.75 540.58,216.43 541.9,216.7 C543.22,216.97 544.48,217 545.8,217 C547.12,217 548.48,216.82 549.8,216.7 C551.12,216.58 552.5,216.7 553.7,216.3 C554.9,215.9 556.02,215.5 557,214.3 C557.98,213.1 558.88,211.28 559.6,209.1 C560.32,206.92 560.8,203.13 561.3,201.2 C561.8,199.27 562.15,197.72 562.6,197.5 C563.05,197.28 563.52,198.18 564,199.9 C564.48,201.62 564.92,205.62 565.5,207.8 C566.08,209.98 566.73,211.73 567.5,213 C568.27,214.27 569.12,214.95 570.1,215.4 C571.08,215.85 572.42,215.75 573.4,215.7 C574.38,215.65 575.1,215.37 576,215.1 C576.9,214.83 577.75,214.22 578.8,214.1 C579.85,213.98 581.32,214.35 582.3,214.4 C583.28,214.45 584,214.98 584.7,214.4 C585.4,213.82 585.97,211.88 586.5,210.9 C587.03,209.92 587.43,208.62 587.9,208.5 C588.37,208.38 588.83,209.45 589.3,210.2 C589.77,210.95 590.12,212.82 590.7,213 C591.28,213.18 591.87,211.77 592.8,211.3 C593.73,210.83 594.9,210.38 596.3,210.2 C597.7,210.02 599.57,210.08 601.2,210.2 C602.83,210.32 604.47,210.55 606.1,210.9 C607.73,211.25 609.6,211.72 611,212.3 C612.4,212.88 613.57,214.98 614.5,214.4 C615.43,213.82 615.97,210.38 616.6,208.8 C617.23,207.22 617.72,205.25 618.3,204.9 C618.88,204.55 619.43,205.47 620.1,206.7 C620.77,207.93 621.58,211.02 622.3,212.3 C623.02,213.58 623.75,214.28 624.4,214.4 C625.05,214.52 625.58,214.05 626.2,213 C626.82,211.95 627.47,209.27 628.1,208.1 C628.73,206.93 629.38,205.88 630,206 C630.62,206.12 631.22,207.52 631.8,208.8 C632.38,210.08 632.75,212.77 633.5,213.7 C634.25,214.63 635.37,214.4 636.3,214.4 C637.23,214.4 638.17,214.22 639.1,213.7 C640.03,213.18 641.08,211.88 641.9,211.3 C642.72,210.72 643.3,210.03 644,210.2 C644.7,210.37 645.4,212.18 646.1,212.3 C646.8,212.42 647.62,211.25 648.2,210.9 C648.78,210.55 649.02,209.85 649.6,210.2 C650.18,210.55 650.88,211.95 651.7,213 C652.52,214.05 653.33,215.73 654.5,216.5 C655.67,217.27 657.42,217.48 658.7,217.6 C659.98,217.72 661.03,217.62 662.2,217.2 C663.37,216.78 664.65,215.62 665.7,215.1 C666.75,214.58 667.65,214.33 668.5,214.1 C669.35,213.87 670.42,213.77 670.8,213.7" fill="none" stroke="#88D5C6" stroke-width="1.15" stroke-linejoin="round" stroke-linecap="round"/>
<path d="M401.1,213.3 C401.47,213.12 402.55,214.23 403.3,212.2 C404.05,210.17 404.97,203.4 405.6,201.1 C406.23,198.8 406.55,197.85 407.1,198.4 C407.65,198.95 408.38,202.65 408.9,204.4 C409.42,206.15 409.65,208.9 410.2,208.9 C410.75,208.9 411.6,207.73 412.2,204.4 C412.8,201.07 413.23,196.3 413.8,188.9 C414.37,181.5 415.02,169.27 415.6,160 C416.18,150.73 416.83,138.92 417.3,133.3 C417.77,127.68 418.02,126.3 418.4,126.3 C418.78,126.3 419.22,128.62 419.6,133.3 C419.98,137.98 420.27,151.98 420.7,154.4 C421.13,156.82 421.65,148.9 422.2,147.8 C422.75,146.7 423.43,147.25 424,147.8 C424.57,148.35 425.08,150.37 425.6,151.1 C426.12,151.83 426.63,150.72 427.1,152.2 C427.57,153.68 428.03,157.03 428.4,160 C428.77,162.97 428.92,169.07 429.3,170 C429.68,170.93 430.28,166.15 430.7,165.6 C431.12,165.05 431.37,165.6 431.8,166.7 C432.23,167.8 432.82,171.83 433.3,172.2 C433.78,172.57 434.25,172.78 434.7,168.9 C435.15,165.02 435.67,157.88 436,148.9 C436.33,139.92 436.4,123.98 436.7,115 C437,106.02 437.32,100.55 437.8,95 C438.28,89.45 439.02,81.7 439.6,81.7 C440.18,81.7 440.87,89.45 441.3,95 C441.73,100.55 441.93,107.87 442.2,115 C442.47,122.13 442.6,132.52 442.9,137.8 C443.2,143.08 443.55,143.37 444,146.7 C444.45,150.03 445.08,153.37 445.6,157.8 C446.12,162.23 446.55,169.42 447.1,173.3 C447.65,177.18 448.23,179.53 448.9,181.1 C449.57,182.67 450.43,183.82 451.1,182.7 C451.77,181.58 452.42,175.4 452.9,174.4 C453.38,173.4 453.63,173.37 454,176.7 C454.37,180.03 454.65,191.25 455.1,194.4 C455.55,197.55 456.18,195.33 456.7,195.6 C457.22,195.87 457.65,198.23 458.2,196 C458.75,193.77 459.4,185.68 460,182.2 C460.6,178.72 461.2,175.1 461.8,175.1 C462.4,175.1 463.08,178.42 463.6,182.2 C464.12,185.98 464.48,194.65 464.9,197.8 C465.32,200.95 465.63,205.55 466.1,201.1 C466.57,196.65 467.22,181.28 467.7,171.1 C468.18,160.92 468.6,146.3 469,140 C469.4,133.7 469.73,133.67 470.1,133.3 C470.47,132.93 470.83,133.72 471.2,137.8 C471.57,141.88 471.93,150.03 472.3,157.8 C472.67,165.57 472.95,177.37 473.4,184.4 C473.85,191.43 474.47,196.85 475,200 C475.53,203.15 476.12,203.67 476.6,203.3 C477.08,202.93 477.43,202.42 477.9,197.8 C478.37,193.18 478.88,183.02 479.4,175.6 C479.92,168.18 480.43,160.35 481,153.3 C481.57,146.25 482.2,138.53 482.8,133.3 C483.4,128.07 484.05,124.9 484.6,121.9 C485.15,118.9 485.67,116.32 486.1,115.3 C486.53,114.28 486.83,115.18 487.2,115.8 C487.57,116.42 488,120.98 488.3,119 C488.6,117.02 488.73,113.83 489,103.9 C489.27,93.97 489.53,70.88 489.9,59.4 C490.27,47.92 490.83,39.48 491.2,35 C491.57,30.52 491.8,32.13 492.1,32.5 C492.4,32.87 492.7,32.72 493,37.2 C493.3,41.68 493.6,48.28 493.9,59.4 C494.2,70.52 494.5,90.47 494.8,103.9 C495.1,117.33 495.37,130.65 495.7,140 C496.03,149.35 496.37,155.73 496.8,160 C497.23,164.27 497.78,163.75 498.3,165.6 C498.82,167.45 499.42,171.3 499.9,171.1 C500.38,170.9 500.72,165.77 501.2,164.4 C501.68,163.03 502.28,162.52 502.8,162.9 C503.32,163.28 503.82,164.52 504.3,166.7 C504.78,168.88 505.28,177.12 505.7,176 C506.12,174.88 506.47,163.22 506.8,160 C507.13,156.78 507.4,156.88 507.7,156.7 C508,156.52 508.27,160.57 508.6,158.9 C508.93,157.23 509.33,149.92 509.7,146.7 C510.07,143.48 510.4,140.35 510.8,139.6 C511.2,138.85 511.67,139.92 512.1,142.2 C512.53,144.48 512.92,148.12 513.4,153.3 C513.88,158.48 514.47,167.37 515,173.3 C515.53,179.23 516.05,184.63 516.6,188.9 C517.15,193.17 517.72,196.5 518.3,198.9 C518.88,201.3 519.53,202.82 520.1,203.3 C520.67,203.78 521.18,202.28 521.7,201.8 C522.22,201.32 522.65,200.15 523.2,200.4 C523.75,200.65 524.4,203.18 525,203.3 C525.6,203.42 526.13,202.38 526.8,201.1 C527.47,199.82 528.27,197.08 529,195.6 C529.73,194.12 530.53,192.28 531.2,192.2 C531.87,192.12 532.47,194.17 533,195.1 C533.53,196.03 533.87,199.2 534.4,197.8 C534.93,196.4 535.63,189.85 536.2,186.7 C536.77,183.55 537.28,180.57 537.8,178.9 C538.32,177.23 538.82,176.52 539.3,176.7 C539.78,176.88 540.22,178.33 540.7,180 C541.18,181.67 541.68,186.33 542.2,186.7 C542.72,187.07 543.32,185.53 543.8,182.2 C544.28,178.87 544.7,174.85 545.1,166.7 C545.5,158.55 545.83,142.98 546.2,133.3 C546.57,123.62 546.88,114.17 547.3,108.6 C547.72,103.03 548.25,99.95 548.7,99.9 C549.15,99.85 549.72,103.83 550,108.3 C550.28,112.77 550.18,119.2 550.4,126.7 C550.62,134.2 551,147.2 551.3,153.3 C551.6,159.4 551.87,163.3 552.2,163.3 C552.53,163.3 552.85,156.25 553.3,153.3 C553.75,150.35 554.42,147.45 554.9,145.6 C555.38,143.75 555.83,143.5 556.2,142.2 C556.57,140.9 556.77,140.77 557.1,137.8 C557.43,134.83 557.78,127.38 558.2,124.4 C558.62,121.42 559.12,119.33 559.6,119.9 C560.08,120.47 560.67,124.63 561.1,127.8 C561.53,130.97 561.83,139.63 562.2,138.9 C562.57,138.17 562.93,125.62 563.3,123.4 C563.67,121.18 564.02,122.1 564.4,125.6 C564.78,129.1 565.22,137.93 565.6,144.4 C565.98,150.87 566.33,157.73 566.7,164.4 C567.07,171.07 567.43,182.17 567.8,184.4 C568.17,186.63 568.53,179.65 568.9,177.8 C569.27,175.95 569.6,173.48 570,173.3 C570.4,173.12 570.85,173.73 571.3,176.7 C571.75,179.67 572.18,186.85 572.7,191.1 C573.22,195.35 573.85,201.83 574.4,202.2 C574.95,202.57 575.47,196.63 576,193.3 C576.53,189.97 577.05,185.15 577.6,182.2 C578.15,179.25 578.72,176.33 579.3,175.6 C579.88,174.87 580.53,175.58 581.1,177.8 C581.67,180.02 582.15,185.2 582.7,188.9 C583.25,192.6 583.85,196.67 584.4,200 C584.95,203.33 585.52,209.27 586,208.9 C586.48,208.53 586.82,201.02 587.3,197.8 C587.78,194.58 588.45,190.35 588.9,189.6 C589.35,188.85 589.6,191.2 590,193.3 C590.4,195.4 590.85,201.45 591.3,202.2 C591.75,202.95 592.18,198.53 592.7,197.8 C593.22,197.07 593.82,197.62 594.4,197.8 C594.98,197.98 595.77,198.7 596.2,198.9 C596.63,199.1 596.42,198.8 597,199 C597.58,199.2 598.88,200.1 599.7,200.1 C600.52,200.1 601.23,201.6 601.9,199 C602.57,196.4 603.15,188.22 603.7,184.5 C604.25,180.78 604.77,177.43 605.2,176.7 C605.63,175.97 605.92,177.32 606.3,180.1 C606.68,182.88 607.12,191.55 607.5,193.4 C607.88,195.25 608.2,192.02 608.6,191.2 C609,190.38 609.5,188.5 609.9,188.5 C610.3,188.5 610.63,190.57 611,191.2 C611.37,191.83 611.73,192.85 612.1,192.3 C612.47,191.75 612.83,189.02 613.2,187.9 C613.57,186.78 613.92,185.6 614.3,185.6 C614.68,185.6 615.12,186.6 615.5,187.9 C615.88,189.2 616.17,191.82 616.6,193.4 C617.03,194.98 617.67,198.13 618.1,197.4 C618.53,196.67 618.82,192.63 619.2,189 C619.58,185.37 620.02,178.57 620.4,175.6 C620.78,172.63 621.13,172.3 621.5,171.2 C621.87,170.1 622.23,170.12 622.6,169 C622.97,167.88 623.3,165.62 623.7,164.5 C624.1,163.38 624.55,161.93 625,162.3 C625.45,162.67 625.95,165.22 626.4,166.7 C626.85,168.18 627.22,169.53 627.7,171.2 C628.18,172.87 628.85,175.4 629.3,176.7 C629.75,178 630.03,181.03 630.4,179 C630.77,176.97 631.13,168.85 631.5,164.5 C631.87,160.15 632.23,154.57 632.6,152.9 C632.97,151.23 633.33,152.2 633.7,154.5 C634.07,156.8 634.4,161.7 634.8,166.7 C635.2,171.7 635.65,179.3 636.1,184.5 C636.55,189.7 636.97,195 637.5,197.9 C638.03,200.8 638.45,201.08 639.3,201.9 C640.15,202.72 641.5,202.55 642.6,202.8 C643.7,203.05 644.78,203.12 645.9,203.4 C647.02,203.68 648.18,204.02 649.3,204.5 C650.42,204.98 651.5,205.92 652.6,206.3 C653.7,206.68 655.15,207.47 655.9,206.8 C656.65,206.13 656.72,204.35 657.1,202.3 C657.48,200.25 657.83,196.17 658.2,194.5 C658.57,192.83 658.93,191.73 659.3,192.3 C659.67,192.87 660.03,196.6 660.4,197.9 C660.77,199.2 661.1,200.48 661.5,200.1 C661.9,199.72 662.32,196.72 662.8,195.6 C663.28,194.48 663.87,194.32 664.4,193.4 C664.93,192.48 665.45,191.58 666,190.1 C666.55,188.62 667.12,186.1 667.7,184.5 C668.28,182.9 668.98,181.23 669.5,180.5 C670.02,179.77 670.58,180.17 670.8,180.1" fill="none" stroke="#F1B472" stroke-width="1.15" stroke-linejoin="round" stroke-linecap="round"/>
</g>
<line x1="582.8" y1="20.2" x2="610.9" y2="20.2" stroke="#F1B472" stroke-width="1.15"/>
<text x="614.6" y="24.4" class="t">Model_0</text>
<line x1="582.8" y1="35.1" x2="610.9" y2="35.1" stroke="#88D5C6" stroke-width="1.15"/>
<text x="614.6" y="39.3" class="t">Model_1</text>
<line x1="582.8" y1="50.2" x2="610.9" y2="50.2" stroke="#78B0D9" stroke-width="1.15"/>
<text x="614.6" y="54.4" class="t">Model_2</text>
<text x="414.2" y="31.2" class="big">(b)</text>
<text x="539.7" y="258.2" text-anchor="middle" class="t">MD Steps</text>
<text transform="translate(364.7,117.2) rotate(-90)" text-anchor="middle" class="t">Bayesian Error</text>
<clipPath id="cc"><rect x="46.5" y="307.4" width="268.9" height="216.8"/></clipPath>
<path d="M46.5,524.2 L46.5,528.4 M100.28,524.2 L100.28,528.4 M100.28,307.4 L100.28,310.8 M154.06,524.2 L154.06,528.4 M154.06,307.4 L154.06,310.8 M207.84,524.2 L207.84,528.4 M207.84,307.4 L207.84,310.8 M261.62,524.2 L261.62,528.4 M261.62,307.4 L261.62,310.8 M315.4,524.2 L315.4,528.4 M73.39,524.2 L73.39,526.5 M73.39,307.4 L73.39,309.2 M127.17,524.2 L127.17,526.5 M127.17,307.4 L127.17,309.2 M180.95,524.2 L180.95,526.5 M180.95,307.4 L180.95,309.2 M234.73,524.2 L234.73,526.5 M234.73,307.4 L234.73,309.2 M288.51,524.2 L288.51,526.5 M288.51,307.4 L288.51,309.2 M46.5,524.2 L42.3,524.2 M46.5,480.84 L42.3,480.84 M315.4,480.84 L312,480.84 M46.5,437.48 L42.3,437.48 M315.4,437.48 L312,437.48 M46.5,394.12 L42.3,394.12 M315.4,394.12 L312,394.12 M46.5,350.76 L42.3,350.76 M315.4,350.76 L312,350.76 M46.5,307.4 L42.3,307.4 M46.5,502.52 L44.2,502.52 M315.4,502.52 L313.6,502.52 M46.5,459.16 L44.2,459.16 M315.4,459.16 L313.6,459.16 M46.5,415.8 L44.2,415.8 M315.4,415.8 L313.6,415.8 M46.5,372.44 L44.2,372.44 M315.4,372.44 L313.6,372.44 M46.5,329.08 L44.2,329.08 M315.4,329.08 L313.6,329.08" stroke="#2a2a2a" stroke-width="1.1" fill="none"/>
<rect x="46.5" y="307.4" width="268.9" height="216.8" fill="none" stroke="#2a2a2a" stroke-width="1.2"/>
<text x="46.5" y="541.1" text-anchor="middle" class="t">0</text>
<text x="100.28" y="541.1" text-anchor="middle" class="t">200</text>
<text x="154.06" y="541.1" text-anchor="middle" class="t">400</text>
<text x="207.84" y="541.1" text-anchor="middle" class="t">600</text>
<text x="261.62" y="541.1" text-anchor="middle" class="t">800</text>
<text x="315.4" y="541.1" text-anchor="middle" class="t">1000</text>
<text x="39.1" y="528.5" text-anchor="end" class="t">0.0</text>
<text x="39.1" y="485.14" text-anchor="end" class="t">0.2</text>
<text x="39.1" y="441.78" text-anchor="end" class="t">0.4</text>
<text x="39.1" y="398.42" text-anchor="end" class="t">0.6</text>
<text x="39.1" y="355.06" text-anchor="end" class="t">0.8</text>
<text x="39.1" y="311.7" text-anchor="end" class="t">1.0</text>
<g clip-path="url(#cc)">
<path d="M46.5,523.42 C47.35,523.37 49.88,523.22 51.59,523.1 C53.3,522.97 54.93,522.81 56.78,522.67 C58.62,522.53 61.02,522.3 62.66,522.25 C64.31,522.2 65.34,522.33 66.66,522.38 C67.97,522.43 69.45,522.47 70.55,522.54 C71.64,522.61 72.48,522.8 73.24,522.8 C74.01,522.8 74.42,522.5 75.14,522.54 C75.85,522.59 76.55,523.14 77.53,523.1 C78.51,523.05 79.89,522.46 81.02,522.25 C82.15,522.04 83.33,521.99 84.32,521.83 C85.3,521.67 86.14,521.28 86.91,521.28 C87.67,521.28 88.14,521.63 88.91,521.83 C89.67,522.03 90.62,522.44 91.5,522.48 C92.38,522.52 92.98,522.21 94.19,522.06 C95.41,521.9 97.47,521.67 98.78,521.54 C100.1,521.41 100.88,521.28 102.08,521.28 C103.27,521.28 104.55,521.41 105.97,521.54 C107.38,521.67 108.91,521.89 110.56,522.06 C112.2,522.22 114.1,522.4 115.85,522.54 C117.59,522.68 119.5,522.86 121.03,522.9 C122.56,522.94 123.93,522.86 125.02,522.8 C126.12,522.74 126.75,522.54 127.62,522.54 C128.48,522.54 129.35,522.76 130.21,522.8 C131.08,522.85 132.04,522.9 132.81,522.8 C133.57,522.71 134.15,522.39 134.8,522.25 C135.45,522.11 136.05,522.07 136.7,521.96 C137.35,521.85 138,521.76 138.69,521.6 C139.39,521.44 140.22,521.02 140.89,520.98 C141.55,520.95 141.95,521.2 142.69,521.41 C143.42,521.62 144.3,522 145.28,522.25 C146.26,522.5 147.47,522.76 148.57,522.9 C149.67,523.04 150.88,523.23 151.86,523.1 C152.85,522.97 153.59,522.31 154.46,522.12 C155.32,521.93 156.19,522.01 157.05,521.96 C157.92,521.91 158.77,521.8 159.65,521.83 C160.53,521.86 161.34,521.98 162.34,522.12 C163.34,522.26 164.44,522.54 165.63,522.67 C166.83,522.8 168.01,522.9 169.53,522.9 C171.04,522.9 173.18,522.71 174.71,522.67 C176.24,522.64 177.39,522.64 178.71,522.67 C180.02,522.71 181.28,522.81 182.6,522.9 C183.91,522.99 185.06,523.12 186.59,523.19 C188.12,523.26 190.03,523.29 191.78,523.32 C193.52,523.36 195.53,523.46 197.06,523.42 C198.59,523.38 199.76,523.32 200.96,523.1 C202.15,522.87 203.42,522.45 204.25,522.06 C205.08,521.67 205.45,521.11 205.94,520.76 C206.44,520.4 206.76,519.93 207.24,519.91 C207.72,519.9 208.24,520.27 208.84,520.66 C209.44,521.05 209.95,521.85 210.83,522.25 C211.71,522.66 212.93,522.93 214.13,523.1 C215.32,523.26 216.94,523.23 218.02,523.23 C219.1,523.23 219.48,523.12 220.61,523.1 C221.74,523.07 223.41,523.11 224.8,523.1 C226.2,523.08 227.95,523.13 228.99,523 C230.04,522.87 230.51,522.51 231.09,522.32 C231.67,522.13 231.9,521.84 232.49,521.86 C233.07,521.88 233.88,522.39 234.58,522.45 C235.28,522.5 235.51,522.28 236.68,522.19 C237.84,522.09 239.82,521.89 241.56,521.86 C243.31,521.83 245.29,521.94 247.15,521.99 C249.01,522.05 251.11,522.09 252.74,522.19 C254.37,522.28 255.88,522.45 256.93,522.54 C257.98,522.64 258.33,522.88 259.03,522.77 C259.72,522.66 260.49,522.14 261.12,521.86 C261.75,521.58 262.15,521.1 262.82,521.08 C263.48,521.06 264.33,521.45 265.11,521.73 C265.89,522.01 266.76,522.54 267.51,522.77 C268.26,523 268.9,523.21 269.6,523.1 C270.3,522.98 270.97,522.37 271.7,522.09 C272.43,521.81 273.23,521.41 273.99,521.41 C274.76,521.41 275.51,521.82 276.29,522.09 C277.07,522.35 277.7,522.85 278.68,523 C279.66,523.15 280.89,523.09 282.17,523 C283.45,522.91 285.2,522.54 286.36,522.45 C287.53,522.35 288.34,522.39 289.16,522.45 C289.97,522.5 290.44,522.79 291.25,522.77 C292.07,522.75 293.12,522.32 294.05,522.32 C294.98,522.32 295.79,522.62 296.84,522.77 C297.89,522.92 299.05,523.12 300.33,523.23 C301.61,523.33 303.13,523.41 304.52,523.39 C305.92,523.37 307.32,523.22 308.71,523.1 C310.11,522.97 311.82,522.73 312.91,522.64 C313.99,522.55 314.82,522.56 315.2,522.54" fill="none" stroke="#F1B472" stroke-width="1.15" stroke-linejoin="round" stroke-linecap="round"/>
<path d="M46.9,523.8 C47.63,523.52 49.82,522.83 51.3,522.1 C52.78,521.37 54.45,520.15 55.8,519.4 C57.15,518.65 58.52,518.5 59.4,517.6 C60.28,516.7 60.52,515.33 61.1,514 C61.68,512.67 62.22,510.78 62.9,509.6 C63.58,508.42 64.45,507.12 65.2,506.9 C65.95,506.68 66.6,508.45 67.4,508.3 C68.2,508.15 69.12,507.12 70,506 C70.88,504.88 71.95,503.38 72.7,501.6 C73.45,499.82 73.9,496.78 74.5,495.3 C75.1,493.82 75.57,493.2 76.3,492.7 C77.03,492.2 78.02,492.75 78.9,492.3 C79.78,491.85 80.77,490.68 81.6,490 C82.43,489.32 83.15,488.2 83.9,488.2 C84.65,488.2 85.35,488.95 86.1,490 C86.85,491.05 87.67,492.87 88.4,494.5 C89.13,496.13 89.78,498.18 90.5,499.8 C91.22,501.42 91.95,502.87 92.7,504.2 C93.45,505.53 94.18,506.82 95,507.8 C95.82,508.78 96.72,509.35 97.6,510.1 C98.48,510.85 99.4,511.65 100.3,512.3 C101.2,512.95 102.1,513.27 103,514 C103.9,514.73 104.82,515.95 105.7,516.7 C106.58,517.45 107.5,517.9 108.3,518.5 C109.1,519.1 109.75,519.95 110.5,520.3 C111.25,520.65 111.97,520.75 112.8,520.6 C113.63,520.45 114.62,519.95 115.5,519.4 C116.38,518.85 117.22,517.9 118.1,517.3 C118.98,516.7 119.9,516.2 120.8,515.8 C121.7,515.4 122.62,515.48 123.5,514.9 C124.38,514.32 125.22,513.18 126.1,512.3 C126.98,511.42 127.97,510.43 128.8,509.6 C129.63,508.77 130.35,507.9 131.1,507.3 C131.85,506.7 132.5,506.3 133.3,506 C134.1,505.7 135.02,505.8 135.9,505.5 C136.78,505.2 137.7,504.27 138.6,504.2 C139.5,504.13 140.4,504.7 141.3,505.1 C142.2,505.5 143.12,506.3 144,506.6 C144.88,506.9 145.87,507 146.6,506.9 C147.33,506.8 147.65,505.85 148.4,506 C149.15,506.15 150.22,507.12 151.1,507.8 C151.98,508.48 152.82,509.42 153.7,510.1 C154.58,510.78 155.35,511.38 156.4,511.9 C157.45,512.42 158.82,513.27 160,513.2 C161.18,513.13 162.35,512.28 163.5,511.5 C164.65,510.72 165.85,509.27 166.9,508.5 C167.95,507.73 168.93,507.4 169.8,506.9 C170.67,506.4 171.37,505.43 172.1,505.5 C172.83,505.57 173.25,506.47 174.2,507.3 C175.15,508.13 176.6,509.23 177.8,510.5 C179,511.77 180.22,513.87 181.4,514.9 C182.58,515.93 183.72,516.25 184.9,516.7 C186.08,517.15 187.45,517.38 188.5,517.6 C189.55,517.82 190.32,518.3 191.2,518 C192.08,517.7 192.77,516.75 193.8,515.8 C194.83,514.85 196.2,513.48 197.4,512.3 C198.6,511.12 199.82,509.9 201,508.7 C202.18,507.5 203.47,506.13 204.5,505.1 C205.53,504.07 206.37,503.08 207.2,502.5 C208.03,501.92 208.77,501.45 209.5,501.6 C210.23,501.75 210.65,502.52 211.6,503.4 C212.55,504.28 214,505.72 215.2,506.9 C216.4,508.08 217.62,509.45 218.8,510.5 C219.98,511.55 221.12,512.32 222.3,513.2 C223.48,514.08 224.7,514.77 225.9,515.8 C227.1,516.83 228.47,518.65 229.5,519.4 C230.53,520.15 231.22,520.37 232.1,520.3 C232.98,520.23 233.9,519.45 234.8,519 C235.7,518.55 236.75,517.68 237.5,517.6 C238.25,517.52 238.57,517.9 239.3,518.5 C240.03,519.1 241.02,521.05 241.9,521.2 C242.78,521.35 243.7,520.05 244.6,519.4 C245.5,518.75 246.42,518.03 247.3,517.3 C248.18,516.57 249.02,515.55 249.9,515 C250.78,514.45 251.55,514.1 252.6,514 C253.65,513.9 255.17,514.23 256.2,514.4 C257.23,514.57 257.92,515.07 258.8,515 C259.68,514.93 260.45,514.45 261.5,514 C262.55,513.55 264.07,512.88 265.1,512.3 C266.13,511.72 266.82,511.4 267.7,510.5 C268.58,509.6 269.65,508.08 270.4,506.9 C271.15,505.72 271.6,504.58 272.2,503.4 C272.8,502.22 273.28,500.72 274,499.8 C274.72,498.88 275.6,498.6 276.5,497.9 C277.4,497.2 278.45,496.35 279.4,495.6 C280.35,494.85 281.35,493.95 282.2,493.4 C283.05,492.85 283.75,492.12 284.5,492.3 C285.25,492.48 285.88,493.57 286.7,494.5 C287.52,495.43 288.58,497.15 289.4,497.9 C290.22,498.65 290.87,498.63 291.6,499 C292.33,499.37 293.13,499.18 293.8,500.1 C294.47,501.02 295.05,502.83 295.6,504.5 C296.15,506.17 296.47,508.23 297.1,510.1 C297.73,511.97 298.65,514.33 299.4,515.7 C300.15,517.07 300.87,517.57 301.6,518.3 C302.33,519.03 303.07,519.62 303.8,520.1 C304.53,520.58 305.07,521.02 306,521.2 C306.93,521.38 308.28,521.38 309.4,521.2 C310.52,521.02 311.52,520.47 312.7,520.1 C313.88,519.73 315.87,519.18 316.5,519" fill="none" stroke="#88D5C6" stroke-width="1.15" stroke-linejoin="round" stroke-linecap="round"/>
<path d="M46.9,523.8 C47.2,523.37 48.1,522.23 48.7,521.2 C49.3,520.17 49.92,519.08 50.5,517.6 C51.08,516.12 51.7,514.67 52.2,512.3 C52.7,509.93 53.05,508.15 53.5,503.4 C53.95,498.65 54.52,489.45 54.9,483.8 C55.28,478.15 55.45,474.4 55.8,469.5 C56.15,464.6 56.62,457.07 57,454.4 C57.38,451.73 57.7,452.92 58.1,453.5 C58.5,454.08 58.98,458.2 59.4,457.9 C59.82,457.6 60.17,455.4 60.6,451.7 C61.03,448 61.52,439.55 62,435.7 C62.48,431.85 63.12,430.18 63.5,428.6 C63.88,427.02 63.95,425.92 64.3,426.2 C64.65,426.48 65.18,428.27 65.6,430.3 C66.02,432.33 66.45,437.8 66.8,438.4 C67.15,439 67.3,435.1 67.7,433.9 C68.1,432.7 68.75,431.8 69.2,431.2 C69.65,430.6 70.05,429.85 70.4,430.3 C70.75,430.75 70.97,431.22 71.3,433.9 C71.63,436.58 72.02,441.95 72.4,446.4 C72.78,450.85 73.18,456.45 73.6,460.6 C74.02,464.75 74.45,467.88 74.9,471.3 C75.35,474.72 75.87,478.28 76.3,481.1 C76.73,483.92 77.15,488.05 77.5,488.2 C77.85,488.35 78.1,484.22 78.4,482 C78.7,479.78 78.97,474.9 79.3,474.9 C79.63,474.9 80.02,478.45 80.4,482 C80.78,485.55 81.17,491.75 81.6,496.2 C82.03,500.65 82.55,506.32 83,508.7 C83.45,511.08 83.88,509.75 84.3,510.5 C84.72,511.25 85.12,512.47 85.5,513.2 C85.88,513.93 86.2,515.65 86.6,514.9 C87,514.15 87.55,510.33 87.9,508.7 C88.25,507.07 88.38,505.98 88.7,505.1 C89.02,504.22 89.4,503.98 89.8,503.4 C90.2,502.82 90.62,502.95 91.1,501.6 C91.58,500.25 92.2,497.97 92.7,495.3 C93.2,492.63 93.63,489.9 94.1,485.6 C94.57,481.3 95.05,475.15 95.5,469.5 C95.95,463.85 96.38,457.33 96.8,451.7 C97.22,446.07 97.57,440.98 98,435.7 C98.43,430.42 98.87,427.23 99.4,420 C99.93,412.77 100.67,399.58 101.2,392.3 C101.73,385.02 102,380.3 102.6,376.3 C103.2,372.3 104.08,368.6 104.8,368.3 C105.52,368 106.32,370.5 106.9,374.5 C107.48,378.5 107.85,384.72 108.3,392.3 C108.75,399.88 109.23,412.18 109.6,420 C109.97,427.82 110.07,432.73 110.5,439.2 C110.93,445.67 111.62,452.85 112.2,458.8 C112.78,464.75 113.4,470.43 114,474.9 C114.6,479.37 115.27,482.63 115.8,485.6 C116.33,488.57 116.67,490.33 117.2,492.7 C117.73,495.07 118.4,497.43 119,499.8 C119.6,502.17 120.27,506.3 120.8,506.9 C121.33,507.5 121.75,505.47 122.2,503.4 C122.65,501.33 123.08,497.77 123.5,494.5 C123.92,491.23 124.32,486.78 124.7,483.8 C125.08,480.82 125.42,476.9 125.8,476.6 C126.18,476.3 126.58,479.32 127,482 C127.42,484.68 127.93,489.37 128.3,492.7 C128.67,496.03 128.92,499.55 129.2,502 C129.48,504.45 129.58,506.67 130,507.4 C130.42,508.13 131.18,507.25 131.7,506.4 C132.22,505.55 132.63,504 133.1,502.3 C133.57,500.6 133.98,498.93 134.5,496.2 C135.02,493.47 135.68,490 136.2,485.9 C136.72,481.8 137.08,477.38 137.6,471.6 C138.12,465.82 138.78,458.02 139.3,451.2 C139.82,444.38 140.2,437.53 140.7,430.7 C141.2,423.87 141.87,415.98 142.3,410.2 C142.73,404.42 142.97,400.03 143.3,396 C143.63,391.97 143.95,388.53 144.3,386 C144.65,383.47 144.98,380.13 145.4,380.8 C145.82,381.47 146.3,386.3 146.8,390 C147.3,393.7 147.93,402.47 148.4,403 C148.87,403.53 149.25,392 149.6,393.2 C149.95,394.4 150.18,403.27 150.5,410.2 C150.82,417.13 151.15,426.27 151.5,434.8 C151.85,443.33 152.25,453.57 152.6,461.4 C152.95,469.23 153.27,476.35 153.6,481.8 C153.93,487.25 154.2,490.68 154.6,494.1 C155,497.52 155.55,500.25 156,502.3 C156.45,504.35 156.85,506.23 157.3,506.4 C157.75,506.57 158.3,503.47 158.7,503.3 C159.1,503.13 159.37,504.53 159.7,505.4 C160.03,506.27 160.35,507.48 160.7,508.5 C161.05,509.52 161.45,511 161.8,511.5 C162.15,512 162.47,512 162.8,511.5 C163.13,511 163.47,510.03 163.8,508.5 C164.13,506.97 164.38,504.35 164.8,502.3 C165.22,500.25 165.85,497.73 166.3,496.2 C166.75,494.67 167.13,493.1 167.5,493.1 C167.87,493.1 168.1,495.35 168.5,496.2 C168.9,497.05 169.42,498.55 169.9,498.2 C170.38,497.85 170.95,496.15 171.4,494.1 C171.85,492.05 172.27,488.82 172.6,485.9 C172.93,482.98 173.13,479.18 173.4,476.6 C173.67,474.02 173.92,470.4 174.2,470.4 C174.48,470.4 174.73,474.22 175.1,476.6 C175.47,478.98 176,484.1 176.4,484.7 C176.8,485.3 177.12,481.98 177.5,480.2 C177.88,478.42 178.3,475.63 178.7,474 C179.1,472.37 179.45,471.3 179.9,470.4 C180.35,469.5 180.92,469.18 181.4,468.6 C181.88,468.02 182.37,467.33 182.8,466.9 C183.23,466.47 183.58,466.6 184,466 C184.42,465.4 184.9,467.17 185.3,463.3 C185.7,459.43 186.07,450.02 186.4,442.8 C186.73,435.58 186.95,425.98 187.3,420 C187.65,414.02 188.1,406.9 188.5,406.9 C188.9,406.9 189.35,414.02 189.7,420 C190.05,425.98 190.33,434.55 190.6,442.8 C190.87,451.05 191.05,462.67 191.3,469.5 C191.55,476.33 191.83,479.35 192.1,483.8 C192.37,488.25 192.55,492.35 192.9,496.2 C193.25,500.05 193.75,504.37 194.2,506.9 C194.65,509.43 195.13,510.8 195.6,511.4 C196.07,512 196.55,510.35 197,510.5 C197.45,510.65 197.88,512.3 198.3,512.3 C198.72,512.3 199.05,510.5 199.5,510.5 C199.95,510.5 200.52,512.6 201,512.3 C201.48,512 201.97,509.9 202.4,508.7 C202.83,507.5 203.18,506.28 203.6,505.1 C204.02,503.92 204.45,502.63 204.9,501.6 C205.35,500.57 205.83,499.65 206.3,498.9 C206.77,498.15 207.25,498.13 207.7,497.1 C208.15,496.07 208.58,493.73 209,492.7 C209.42,491.67 209.77,491.8 210.2,490.9 C210.63,490 211.12,488.78 211.6,487.3 C212.08,485.82 212.65,483.78 213.1,482 C213.55,480.22 213.88,478.23 214.3,476.6 C214.72,474.97 215.15,473.53 215.6,472.2 C216.05,470.87 216.53,469.48 217,468.6 C217.47,467.72 217.95,466.9 218.4,466.9 C218.85,466.9 219.28,467.42 219.7,468.6 C220.12,469.78 220.47,472.07 220.9,474 C221.33,475.93 221.82,477.98 222.3,480.2 C222.78,482.42 223.35,485.22 223.8,487.3 C224.25,489.38 224.6,492.55 225,492.7 C225.4,492.85 225.82,489.53 226.2,488.2 C226.58,486.87 226.9,485 227.3,484.7 C227.7,484.4 228.18,485.52 228.6,486.4 C229.02,487.28 229.42,490 229.8,490 C230.18,490 230.52,485.65 230.9,486.4 C231.28,487.15 231.68,491.67 232.1,494.5 C232.52,497.33 233.02,501.63 233.4,503.4 C233.78,505.17 234.02,505.4 234.4,505.1 C234.78,504.8 235.28,501.6 235.7,501.6 C236.12,501.6 236.45,503.32 236.9,505.1 C237.35,506.88 237.92,511.25 238.4,512.3 C238.88,513.35 239.27,512 239.8,511.4 C240.33,510.8 241.02,509.6 241.6,508.7 C242.18,507.8 242.72,507.18 243.3,506 C243.88,504.82 244.58,503.52 245.1,501.6 C245.62,499.68 245.98,497.77 246.4,494.5 C246.82,491.23 247.17,487.65 247.6,482 C248.03,476.35 248.55,466.53 249,460.6 C249.45,454.67 249.85,449.52 250.3,446.4 C250.75,443.28 251.25,441.6 251.7,441.9 C252.15,442.2 252.62,445.08 253,448.2 C253.38,451.32 253.62,456.6 254,460.6 C254.38,464.6 254.88,469.97 255.3,472.2 C255.72,474.43 256.12,473.85 256.5,474 C256.88,474.15 257.22,472.8 257.6,473.1 C257.98,473.4 258.38,474.77 258.8,475.8 C259.22,476.83 259.65,479.75 260.1,479.3 C260.55,478.85 261.03,473.25 261.5,473.1 C261.97,472.95 262.45,476.32 262.9,478.4 C263.35,480.48 263.78,483.37 264.2,485.6 C264.62,487.83 265.02,490.47 265.4,491.8 C265.78,493.13 266.17,495.83 266.5,493.6 C266.83,491.37 267.1,485.38 267.4,478.4 C267.7,471.42 268.03,459.72 268.3,451.7 C268.57,443.68 268.7,435.5 269,430.3 C269.3,425.1 269.75,419.98 270.1,420.5 C270.45,421.02 270.78,427.55 271.1,433.4 C271.42,439.25 271.7,448.57 272,455.6 C272.3,462.63 272.6,469.67 272.9,475.6 C273.2,481.53 273.47,486 273.8,491.2 C274.13,496.4 274.53,502.92 274.9,506.8 C275.27,510.68 275.63,513.4 276,514.5 C276.37,515.6 276.73,514.88 277.1,513.4 C277.47,511.92 277.82,508.93 278.2,505.6 C278.58,502.27 279.02,496.92 279.4,493.4 C279.78,489.88 280.13,486.35 280.5,484.5 C280.87,482.65 281.23,482.12 281.6,482.3 C281.97,482.48 282.33,485.97 282.7,485.6 C283.07,485.23 283.43,483.25 283.8,480.1 C284.17,476.95 284.53,469.67 284.9,466.7 C285.27,463.73 285.63,462.3 286,462.3 C286.37,462.3 286.72,466.33 287.1,466.7 C287.48,467.07 287.92,464.5 288.3,464.5 C288.68,464.5 289.03,465.77 289.4,466.7 C289.77,467.63 290.13,468.62 290.5,470.1 C290.87,471.58 291.23,475.78 291.6,475.6 C291.97,475.42 292.33,471.6 292.7,469 C293.07,466.4 293.43,462.6 293.8,460 C294.17,457.4 294.53,454.87 294.9,453.4 C295.27,451.93 295.63,450.47 296,451.2 C296.37,451.93 296.72,455.22 297.1,457.8 C297.48,460.38 297.92,464.47 298.3,466.7 C298.68,468.93 299.03,469.72 299.4,471.2 C299.77,472.68 300.13,475.23 300.5,475.6 C300.87,475.97 301.23,474.5 301.6,473.4 C301.97,472.3 302.33,470.85 302.7,469 C303.07,467.15 303.43,464.53 303.8,462.3 C304.17,460.07 304.53,457.08 304.9,455.6 C305.27,454.12 305.62,452.67 306,453.4 C306.38,454.13 306.82,455.93 307.2,460 C307.58,464.07 307.93,471.87 308.3,477.8 C308.67,483.73 309.03,490.03 309.4,495.6 C309.77,501.17 310.13,507.85 310.5,511.2 C310.87,514.55 311.23,515.33 311.6,515.7 C311.97,516.07 312.33,513.4 312.7,513.4 C313.07,513.4 313.43,515.52 313.8,515.7 C314.17,515.88 314.45,514.7 314.9,514.5 C315.35,514.3 316.23,514.5 316.5,514.5" fill="none" stroke="#78B0D9" stroke-width="1.15" stroke-linejoin="round" stroke-linecap="round"/>
<path d="M46,519.4 C46.15,518.65 46.55,516.83 46.9,514.9 C47.25,512.97 47.65,509.28 48.1,507.8 C48.55,506.32 49.12,506.08 49.6,506 C50.08,505.92 50.57,508.03 51,507.3 C51.43,506.57 51.78,505.52 52.2,501.6 C52.62,497.68 53.12,490.63 53.5,483.8 C53.88,476.97 54.12,467.43 54.5,460.6 C54.88,453.77 55.38,446.95 55.8,442.8 C56.22,438.65 56.55,438.07 57,435.7 C57.45,433.33 57.82,431.67 58.5,428.6 C59.18,425.53 60.45,421.27 61.1,417.3 C61.75,413.33 62,408.82 62.4,404.8 C62.8,400.78 63.12,393.2 63.5,393.2 C63.88,393.2 64.28,400.5 64.7,404.8 C65.12,409.1 65.62,414.15 66,419 C66.38,423.85 66.62,430.23 67,433.9 C67.38,437.57 67.85,438.03 68.3,441 C68.75,443.97 69.27,447.83 69.7,451.7 C70.13,455.57 70.45,460.05 70.9,464.2 C71.35,468.35 71.95,473.03 72.4,476.6 C72.85,480.17 73.18,482.92 73.6,485.6 C74.02,488.28 74.45,491.08 74.9,492.7 C75.35,494.32 75.83,494.42 76.3,495.3 C76.77,496.18 77.27,498 77.7,498 C78.13,498 78.48,495.45 78.9,495.3 C79.32,495.15 79.75,495.9 80.2,497.1 C80.65,498.3 81.13,501.45 81.6,502.5 C82.07,503.55 82.55,503.85 83,503.4 C83.45,502.95 83.88,500.7 84.3,499.8 C84.72,498.9 85.12,497.85 85.5,498 C85.88,498.15 86.2,500.7 86.6,500.7 C87,500.7 87.48,499.03 87.9,498 C88.32,496.97 88.67,495.68 89.1,494.5 C89.53,493.32 90.03,492.25 90.5,490.9 C90.97,489.55 91.45,488.48 91.9,486.4 C92.35,484.32 92.78,480.62 93.2,478.4 C93.62,476.18 93.95,474.05 94.4,473.1 C94.85,472.15 95.42,473.6 95.9,472.7 C96.38,471.8 96.87,469.27 97.3,467.7 C97.73,466.13 98.08,464.18 98.5,463.3 C98.92,462.42 99.35,462.1 99.8,462.4 C100.25,462.7 100.73,464.35 101.2,465.1 C101.67,465.85 102.15,467.65 102.6,466.9 C103.05,466.15 103.48,463.87 103.9,460.6 C104.32,457.33 104.72,448.48 105.1,447.3 C105.48,446.12 105.82,450.83 106.2,453.5 C106.58,456.17 106.98,461.52 107.4,463.3 C107.82,465.08 108.25,463.9 108.7,464.2 C109.15,464.5 109.63,464.52 110.1,465.1 C110.57,465.68 111.05,465.48 111.5,467.7 C111.95,469.92 112.38,475.13 112.8,478.4 C113.22,481.67 113.55,484.33 114,487.3 C114.45,490.27 115.02,492.63 115.5,496.2 C115.98,499.77 116.47,506.17 116.9,508.7 C117.33,511.23 117.68,511.4 118.1,511.4 C118.52,511.4 118.95,509.3 119.4,508.7 C119.85,508.1 120.33,509.28 120.8,507.8 C121.27,506.32 121.75,502.92 122.2,499.8 C122.65,496.68 123.08,493.25 123.5,489.1 C123.92,484.95 124.32,479.65 124.7,474.9 C125.08,470.15 125.42,463.72 125.8,460.6 C126.18,457.48 126.58,456.3 127,456.2 C127.42,456.1 127.87,458.45 128.3,460 C128.73,461.55 129.13,465.62 129.6,465.5 C130.07,465.38 130.62,461.02 131.1,459.3 C131.58,457.58 132,456.55 132.5,455.2 C133,453.85 133.55,453.58 134.1,451.2 C134.65,448.82 135.28,443.47 135.8,440.9 C136.32,438.33 136.73,436.98 137.2,435.8 C137.67,434.62 138.18,435.67 138.6,433.8 C139.02,431.93 139.4,433 139.7,424.6 C140,416.2 140.08,396.43 140.4,383.4 C140.72,370.37 141.2,346.4 141.6,346.4 C142,346.4 142.4,368.67 142.8,383.4 C143.2,398.13 143.57,423.5 144,434.8 C144.43,446.1 144.93,446.43 145.4,451.2 C145.87,455.97 146.4,460.68 146.8,463.4 C147.2,466.12 147.42,468.87 147.8,467.5 C148.18,466.13 148.65,458.95 149.1,455.2 C149.55,451.45 150.1,446.02 150.5,445 C150.9,443.98 151.15,446.72 151.5,449.1 C151.85,451.48 152.18,457.77 152.6,459.3 C153.02,460.83 153.57,456.93 154,458.3 C154.43,459.67 154.83,463.58 155.2,467.5 C155.57,471.42 155.85,477.02 156.2,481.8 C156.55,486.58 156.95,494.48 157.3,496.2 C157.65,497.92 158,493.47 158.3,492.1 C158.6,490.73 158.8,487.67 159.1,488 C159.4,488.33 159.77,492.05 160.1,494.1 C160.43,496.15 160.78,501.67 161.1,500.3 C161.42,498.93 161.72,491.37 162,485.9 C162.28,480.43 162.5,472.95 162.8,467.5 C163.1,462.05 163.47,456.1 163.8,453.2 C164.13,450.3 164.45,449.42 164.8,450.1 C165.15,450.78 165.55,454.05 165.9,457.3 C166.25,460.55 166.57,466.53 166.9,469.6 C167.23,472.67 167.57,474.85 167.9,475.7 C168.23,476.55 168.57,474.53 168.9,474.7 C169.23,474.87 169.55,475.85 169.9,476.7 C170.25,477.55 170.65,479.12 171,479.8 C171.35,480.48 171.67,481.82 172,480.8 C172.33,479.78 172.55,476.93 173,473.7 C173.45,470.47 174.18,465.83 174.7,461.4 C175.22,456.97 175.63,449.83 176.1,447.1 C176.57,444.37 177.07,445.57 177.5,445 C177.93,444.43 178.35,445.25 178.7,443.7 C179.05,442.15 179.22,438.07 179.6,435.7 C179.98,433.33 180.55,430.53 181,429.5 C181.45,428.47 181.88,428.77 182.3,429.5 C182.72,430.23 183.07,431.38 183.5,433.9 C183.93,436.42 184.42,440.15 184.9,444.6 C185.38,449.05 185.95,455.55 186.4,460.6 C186.85,465.65 187.18,469.85 187.6,474.9 C188.02,479.95 188.52,486.45 188.9,490.9 C189.28,495.35 189.52,499.67 189.9,501.6 C190.28,503.53 190.78,504.28 191.2,502.5 C191.62,500.72 192.02,493.87 192.4,490.9 C192.78,487.93 193.17,485 193.5,484.7 C193.83,484.4 194.1,486.58 194.4,489.1 C194.7,491.62 194.95,496.83 195.3,499.8 C195.65,502.77 196.08,506.9 196.5,506.9 C196.92,506.9 197.42,502.02 197.8,499.8 C198.18,497.58 198.42,494.48 198.8,493.6 C199.18,492.72 199.68,497.33 200.1,494.5 C200.52,491.67 200.92,481.8 201.3,476.6 C201.68,471.4 202.02,465.22 202.4,463.3 C202.78,461.38 203.25,463.17 203.6,465.1 C203.95,467.03 204.2,471.2 204.5,474.9 C204.8,478.6 205.1,486.42 205.4,487.3 C205.7,488.18 206,483.17 206.3,480.2 C206.6,477.23 206.9,473.35 207.2,469.5 C207.5,465.65 207.8,461.55 208.1,457.1 C208.4,452.65 208.65,447.27 209,442.8 C209.35,438.33 209.82,434.1 210.2,430.3 C210.58,426.5 210.92,423.65 211.3,420 C211.68,416.35 212,410.58 212.5,408.4 C213,406.22 213.78,406.9 214.3,406.9 C214.82,406.9 215.22,408.6 215.6,408.4 C215.98,408.2 216.22,404.82 216.6,405.7 C216.98,406.58 217.48,411.48 217.9,413.7 C218.32,415.92 218.72,418.55 219.1,419 C219.48,419.45 219.82,413.92 220.2,416.4 C220.58,418.88 221.05,428.6 221.4,433.9 C221.75,439.2 222,442.85 222.3,448.2 C222.6,453.55 222.83,460.07 223.2,466 C223.57,471.93 224.12,478.77 224.5,483.8 C224.88,488.83 225.12,492.5 225.5,496.2 C225.88,499.9 226.38,504.22 226.8,506 C227.22,507.78 227.62,507.93 228,506.9 C228.38,505.87 228.77,502.77 229.1,499.8 C229.43,496.83 229.65,491.77 230,489.1 C230.35,486.43 230.75,485.88 231.2,483.8 C231.65,481.72 232.17,479.28 232.7,476.6 C233.23,473.92 233.82,469.92 234.4,467.7 C234.98,465.48 235.53,464.33 236.2,463.3 C236.87,462.27 237.8,462.1 238.4,461.5 C239,460.9 239.37,460.58 239.8,459.7 C240.23,458.82 240.58,457.53 241,456.2 C241.42,454.87 241.92,451.55 242.3,451.7 C242.68,451.85 242.92,453.83 243.3,457.1 C243.68,460.37 244.3,468.33 244.6,471.3 C244.9,474.27 244.87,476.68 245.1,474.9 C245.33,473.12 245.7,465.95 246,460.6 C246.3,455.25 246.63,448.73 246.9,442.8 C247.17,436.87 247.33,434.9 247.6,425 C247.87,415.1 248.12,398.35 248.5,383.4 C248.88,368.45 249.43,335.3 249.9,335.3 C250.37,335.3 250.85,367.57 251.3,383.4 C251.75,399.23 252.15,421.73 252.6,430.3 C253.05,438.87 253.55,434.2 254,434.8 C254.45,435.4 254.93,435.03 255.3,433.9 C255.67,432.77 255.9,431.43 256.2,428 C256.5,424.57 256.77,416.88 257.1,413.3 C257.43,409.72 257.83,406.5 258.2,406.5 C258.57,406.5 258.93,408.82 259.3,413.3 C259.67,417.78 259.95,426.35 260.4,433.4 C260.85,440.45 261.52,448.93 262,455.6 C262.48,462.27 262.88,468.95 263.3,473.4 C263.72,477.85 264.12,482.67 264.5,482.3 C264.88,481.93 265.23,475.65 265.6,471.2 C265.97,466.75 266.37,458.93 266.7,455.6 C267.03,452.27 267.27,450.83 267.6,451.2 C267.93,451.57 268.33,454.47 268.7,457.8 C269.07,461.13 269.43,468.6 269.8,471.2 C270.17,473.8 270.53,473.77 270.9,473.4 C271.27,473.03 271.6,470.12 272,469 C272.4,467.88 272.88,466.33 273.3,466.7 C273.72,467.07 274.12,468.23 274.5,471.2 C274.88,474.17 275.23,480.05 275.6,484.5 C275.97,488.95 276.33,494.18 276.7,497.9 C277.07,501.62 277.43,505.7 277.8,506.8 C278.17,507.9 278.53,506.37 278.9,504.5 C279.27,502.63 279.63,498.18 280,495.6 C280.37,493.02 280.73,492.33 281.1,489 C281.47,485.67 281.87,481.17 282.2,475.6 C282.53,470.03 282.8,462.63 283.1,455.6 C283.4,448.57 283.7,440.07 284,433.4 C284.3,426.73 284.57,419.5 284.9,415.6 C285.23,411.7 285.63,409.63 286,410 C286.37,410.37 286.72,414.28 287.1,417.8 C287.48,421.32 287.92,429.43 288.3,431.1 C288.68,432.77 288.93,428.53 289.4,427.8 C289.87,427.07 290.55,426.88 291.1,426.7 C291.65,426.52 292.17,426.52 292.7,426.7 C293.23,426.88 293.82,426.68 294.3,427.8 C294.78,428.92 295.13,430.62 295.6,433.4 C296.07,436.18 296.58,440.07 297.1,444.5 C297.62,448.93 298.22,455.92 298.7,460 C299.18,464.08 299.52,466.4 300,469 C300.48,471.6 301.07,473.02 301.6,475.6 C302.13,478.18 302.65,481.53 303.2,484.5 C303.75,487.47 304.32,491.17 304.9,493.4 C305.48,495.63 306.13,497.15 306.7,497.9 C307.27,498.65 307.85,499.38 308.3,497.9 C308.75,496.42 309.03,491.78 309.4,489 C309.77,486.22 310.13,481.95 310.5,481.2 C310.87,480.45 311.23,483.2 311.6,484.5 C311.97,485.8 312.33,490.48 312.7,489 C313.07,487.52 313.43,479.32 313.8,475.6 C314.17,471.88 314.45,467.43 314.9,466.7 C315.35,465.97 316.23,470.45 316.5,471.2" fill="none" stroke="#EE6A62" stroke-width="1.15" stroke-linejoin="round" stroke-linecap="round"/>
</g>
<line x1="227.1" y1="319.6" x2="254.6" y2="319.6" stroke="#F1B472" stroke-width="1.15"/>
<text x="258.7" y="323.6" class="t">T=15 K</text>
<line x1="227.1" y1="334.6" x2="254.6" y2="334.6" stroke="#88D5C6" stroke-width="1.15"/>
<text x="258.7" y="338.6" class="t">T=100 K</text>
<line x1="227.1" y1="349.6" x2="254.6" y2="349.6" stroke="#78B0D9" stroke-width="1.15"/>
<text x="258.7" y="353.6" class="t">T=200 K</text>
<line x1="227.1" y1="364.6" x2="254.6" y2="364.6" stroke="#EE6A62" stroke-width="1.15"/>
<text x="258.7" y="368.6" class="t">T=300 K</text>
<text x="57.6" y="332.3" class="big">(c)</text>
<text x="183.1" y="556.6" text-anchor="middle" class="t">MD Steps</text>
<text transform="translate(9.6,412) rotate(-90)" text-anchor="middle" class="t">Bayesian Error</text>
<clipPath id="cd"><rect x="401.5" y="307.4" width="269.5" height="216.8"/></clipPath>
<path d="M412.73,524.2 L412.73,528.4 M412.73,307.4 L412.73,310.8 M435.19,524.2 L435.19,528.4 M435.19,307.4 L435.19,310.8 M457.65,524.2 L457.65,528.4 M457.65,307.4 L457.65,310.8 M480.1,524.2 L480.1,528.4 M480.1,307.4 L480.1,310.8 M502.56,524.2 L502.56,528.4 M502.56,307.4 L502.56,310.8 M525.02,524.2 L525.02,528.4 M525.02,307.4 L525.02,310.8 M547.48,524.2 L547.48,528.4 M547.48,307.4 L547.48,310.8 M569.94,524.2 L569.94,528.4 M569.94,307.4 L569.94,310.8 M592.4,524.2 L592.4,528.4 M592.4,307.4 L592.4,310.8 M614.85,524.2 L614.85,528.4 M614.85,307.4 L614.85,310.8 M637.31,524.2 L637.31,528.4 M637.31,307.4 L637.31,310.8 M659.77,524.2 L659.77,528.4 M659.77,307.4 L659.77,310.8 M423.96,524.2 L423.96,526.5 M423.96,307.4 L423.96,309.2 M446.42,524.2 L446.42,526.5 M446.42,307.4 L446.42,309.2 M468.88,524.2 L468.88,526.5 M468.88,307.4 L468.88,309.2 M491.33,524.2 L491.33,526.5 M491.33,307.4 L491.33,309.2 M513.79,524.2 L513.79,526.5 M513.79,307.4 L513.79,309.2 M536.25,524.2 L536.25,526.5 M536.25,307.4 L536.25,309.2 M558.71,524.2 L558.71,526.5 M558.71,307.4 L558.71,309.2 M581.17,524.2 L581.17,526.5 M581.17,307.4 L581.17,309.2 M603.62,524.2 L603.62,526.5 M603.62,307.4 L603.62,309.2 M626.08,524.2 L626.08,526.5 M626.08,307.4 L626.08,309.2 M648.54,524.2 L648.54,526.5 M648.54,307.4 L648.54,309.2 M401.5,524.2 L397.3,524.2 M401.5,457.64 L397.3,457.64 M671,457.64 L667.6,457.64 M401.5,391.07 L397.3,391.07 M671,391.07 L667.6,391.07 M401.5,324.51 L397.3,324.51 M671,324.51 L667.6,324.51 M401.5,490.92 L399.2,490.92 M671,490.92 L669.2,490.92 M401.5,424.35 L399.2,424.35 M671,424.35 L669.2,424.35 M401.5,357.79 L399.2,357.79 M671,357.79 L669.2,357.79" stroke="#2a2a2a" stroke-width="1.1" fill="none"/>
<rect x="401.5" y="307.4" width="269.5" height="216.8" fill="none" stroke="#2a2a2a" stroke-width="1.2"/>
<text x="412.73" y="541.1" text-anchor="middle" class="t">0</text>
<text x="435.19" y="541.1" text-anchor="middle" class="t">1</text>
<text x="457.65" y="541.1" text-anchor="middle" class="t">2</text>
<text x="480.1" y="541.1" text-anchor="middle" class="t">3</text>
<text x="502.56" y="541.1" text-anchor="middle" class="t">4</text>
<text x="525.02" y="541.1" text-anchor="middle" class="t">5</text>
<text x="547.48" y="541.1" text-anchor="middle" class="t">6</text>
<text x="569.94" y="541.1" text-anchor="middle" class="t">7</text>
<text x="592.4" y="541.1" text-anchor="middle" class="t">8</text>
<text x="614.85" y="541.1" text-anchor="middle" class="t">9</text>
<text x="637.31" y="541.1" text-anchor="middle" class="t">10</text>
<text x="659.77" y="541.1" text-anchor="middle" class="t">11</text>
<text x="394.1" y="528.5" text-anchor="end" class="t">0.0</text>
<text x="394.1" y="461.94" text-anchor="end" class="t">0.1</text>
<text x="394.1" y="395.37" text-anchor="end" class="t">0.2</text>
<text x="394.1" y="328.81" text-anchor="end" class="t">0.3</text>
<line x1="468.88" y1="307.4" x2="468.88" y2="524.2" stroke="#555" stroke-width="1.2" stroke-dasharray="2.8,2.2"/>
<line x1="536.25" y1="307.4" x2="536.25" y2="524.2" stroke="#555" stroke-width="1.2" stroke-dasharray="2.8,2.2"/>
<line x1="603.62" y1="307.4" x2="603.62" y2="524.2" stroke="#555" stroke-width="1.2" stroke-dasharray="2.8,2.2"/>
<path d="M412.73,334.16 L435.19,498.57 L457.65,511.22 L480.1,413.7 L502.56,451.31 L525.02,465.62 L547.48,368.44 L569.94,437 L592.4,489.59 L614.85,392.4 L637.31,422.36 L659.77,510.55" fill="none" stroke="#88D5C6" stroke-width="0.9" stroke-dasharray="2.2,2"/>
<circle cx="412.73" cy="334.16" r="3.7" fill="#F0B678"/>
<circle cx="435.19" cy="498.57" r="3.7" fill="#F0B678"/>
<circle cx="457.65" cy="511.22" r="3.7" fill="#F0B678"/>
<circle cx="480.1" cy="413.7" r="3.7" fill="#F0B678"/>
<circle cx="502.56" cy="451.31" r="3.7" fill="#F0B678"/>
<circle cx="525.02" cy="465.62" r="3.7" fill="#F0B678"/>
<circle cx="547.48" cy="368.44" r="3.7" fill="#F0B678"/>
<circle cx="569.94" cy="437" r="3.7" fill="#F0B678"/>
<circle cx="592.4" cy="489.59" r="3.7" fill="#F0B678"/>
<circle cx="614.85" cy="392.4" r="3.7" fill="#F0B678"/>
<circle cx="637.31" cy="422.36" r="3.7" fill="#F0B678"/>
<circle cx="659.77" cy="510.55" r="3.7" fill="#F0B678"/>
<text x="421.5" y="356" class="t">T=15 K</text>
<text x="484.5" y="356" class="t">T=100 K</text>
<text x="548.6" y="356" class="t">T=200 K</text>
<text x="616.7" y="356" class="t">T=300 K</text>
<text x="414.2" y="332.8" class="big">(d)</text>
<text x="536.4" y="561" text-anchor="middle" class="t">Model Version</text>
<text transform="translate(368.9,413.9) rotate(-90)" text-anchor="middle" class="t">Maximum Bayesian Error</text>
</svg></body></html>
